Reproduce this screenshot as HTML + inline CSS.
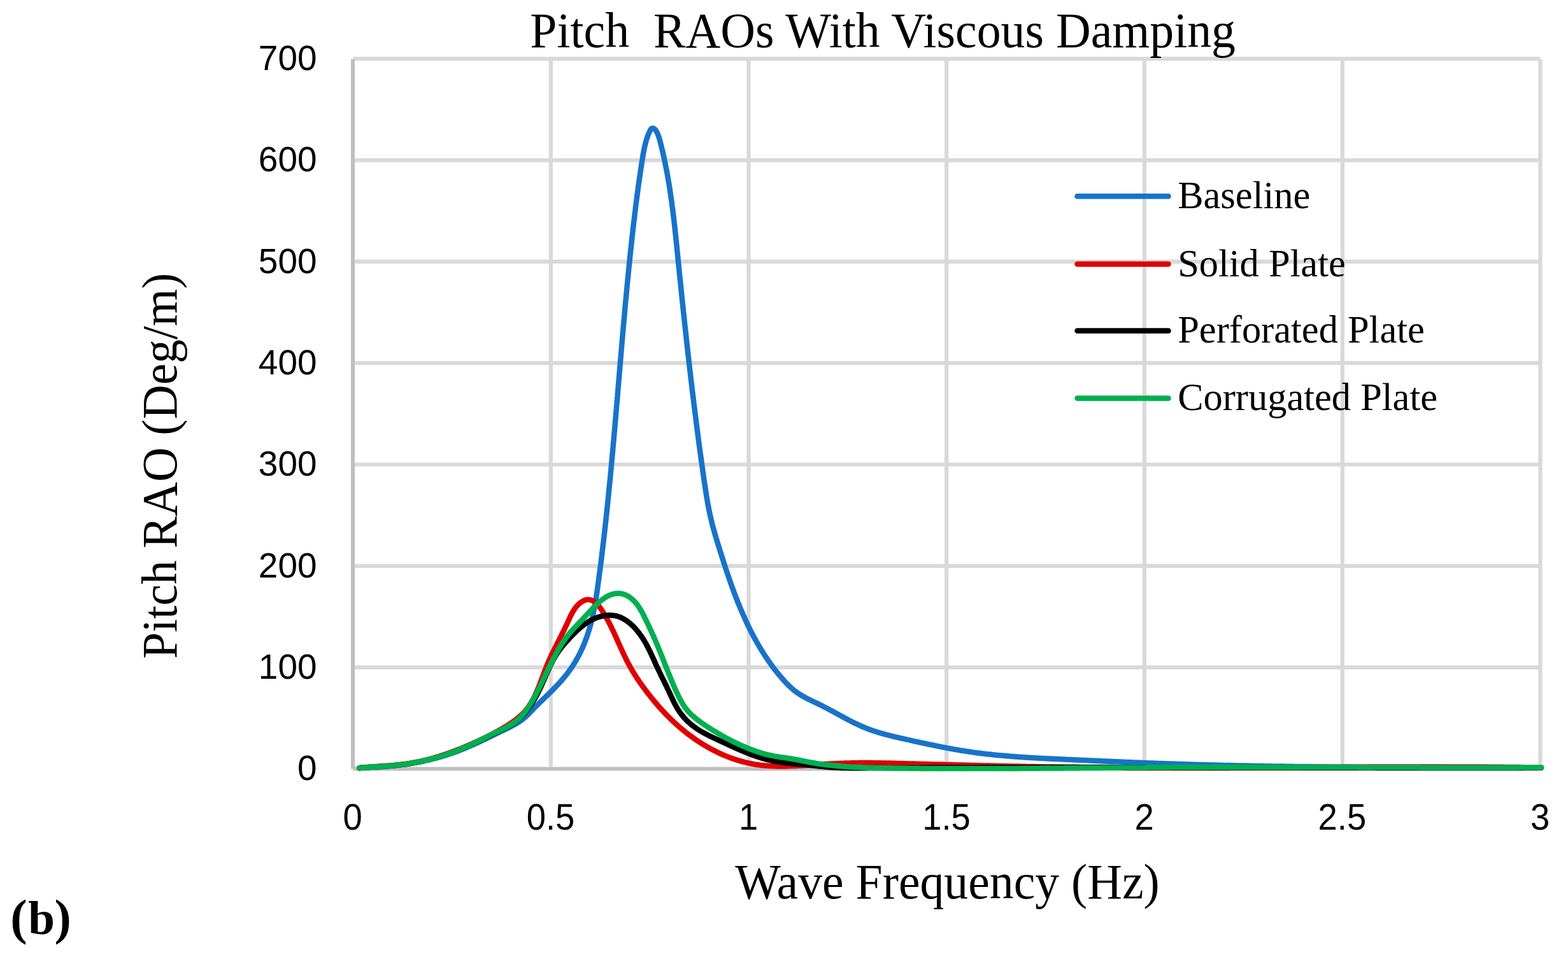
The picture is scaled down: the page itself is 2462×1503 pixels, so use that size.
<!DOCTYPE html>
<html><head><meta charset="utf-8"><title>Pitch RAOs With Viscous Damping</title>
<style>html,body{margin:0;padding:0;background:#fff;overflow:hidden}svg{display:block}</style>
</head><body>
<svg width="2462" height="1503" viewBox="0 0 2462 1503">
<rect width="2462" height="1503" fill="#ffffff"/>
<g stroke="#d9d9d9" stroke-width="6.2"><line x1="554.0" y1="1048.1" x2="2418.5" y2="1048.1"/><line x1="554.0" y1="888.8" x2="2418.5" y2="888.8"/><line x1="554.0" y1="729.5" x2="2418.5" y2="729.5"/><line x1="554.0" y1="570.2" x2="2418.5" y2="570.2"/><line x1="554.0" y1="410.9" x2="2418.5" y2="410.9"/><line x1="554.0" y1="251.6" x2="2418.5" y2="251.6"/><line x1="554.0" y1="92.3" x2="2418.5" y2="92.3"/><line x1="864.8" y1="92.8" x2="864.8" y2="1204.4"/><line x1="1175.5" y1="92.8" x2="1175.5" y2="1204.4"/><line x1="1486.2" y1="92.8" x2="1486.2" y2="1204.4"/><line x1="1797.0" y1="92.8" x2="1797.0" y2="1204.4"/><line x1="2107.8" y1="92.8" x2="2107.8" y2="1204.4"/><line x1="2418.5" y1="92.8" x2="2418.5" y2="1204.4"/></g>
<g stroke="#bfbfbf" stroke-width="6"><line x1="554.0" y1="93.0" x2="554.0" y2="1207.6"/><line x1="554.0" y1="1207.4" x2="2418.5" y2="1207.4"/></g>
<g fill="none" stroke-width="8.5" stroke-linecap="round" stroke-linejoin="round">
<path d="M564.3 1206.2L566.3 1205.7 568.3 1205.6 570.3 1205.6 572.3 1205.5 574.2 1205.5 576.2 1205.4 578.2 1205.3 580.2 1205.3 582.2 1205.2 584.2 1205.1 586.2 1205.0 588.2 1204.9 590.2 1204.8 592.2 1204.7 594.2 1204.5 596.2 1204.4 598.2 1204.3 600.2 1204.1 602.2 1204.0 604.2 1203.8 606.2 1203.7 608.2 1203.5 610.2 1203.3 612.2 1203.1 614.1 1202.9 616.1 1202.7 618.1 1202.5 620.1 1202.3 622.1 1202.1 624.1 1201.8 626.1 1201.6 628.1 1201.4 630.1 1201.1 632.0 1200.8 634.0 1200.6 636.0 1200.3 638.0 1200.0 640.0 1199.7 641.9 1199.4 643.9 1199.1 645.9 1198.8 647.9 1198.4 649.8 1198.1 651.8 1197.7 653.8 1197.4 655.7 1197.0 657.7 1196.6 659.7 1196.3 661.6 1195.9 663.6 1195.5 665.5 1195.0 667.5 1194.6 669.4 1194.2 671.4 1193.8 673.3 1193.3 675.3 1192.8 677.2 1192.4 679.1 1191.9 681.1 1191.4 683.0 1190.9 684.9 1190.4 686.9 1189.9 688.8 1189.4 690.7 1188.8 692.6 1188.3 694.5 1187.7 696.5 1187.1 698.4 1186.6 700.3 1186.0 702.2 1185.4 704.1 1184.8 706.0 1184.1 707.8 1183.5 709.7 1182.9 711.6 1182.2 713.5 1181.5 715.4 1180.9 717.2 1180.2 719.1 1179.5 721.0 1178.8 722.8 1178.1 724.7 1177.3 726.5 1176.6 728.4 1175.8 730.2 1175.1 732.1 1174.3 733.9 1173.5 735.7 1172.7 737.6 1171.9 739.4 1171.1 741.2 1170.3 743.1 1169.5 744.9 1168.7 746.7 1167.8 748.5 1167.0 750.3 1166.2 752.2 1165.3 754.0 1164.5 755.8 1163.6 757.6 1162.7 759.4 1161.9 761.2 1161.0 763.0 1160.1 764.8 1159.3 766.6 1158.4 768.4 1157.5 770.2 1156.6 772.0 1155.8 773.8 1154.9 775.6 1154.0 777.4 1153.1 779.2 1152.2 781.0 1151.3 782.9 1150.5 784.7 1149.6 786.5 1148.7 788.3 1147.8 790.1 1147.0 791.9 1146.1 793.7 1145.2 795.5 1144.3 797.3 1143.5 799.1 1142.6 800.9 1141.7 802.7 1140.8 804.4 1139.9 806.2 1138.9 807.9 1138.0 809.6 1137.0 811.4 1136.0 813.0 1135.0 814.7 1133.9 816.4 1132.8 818.0 1131.7 819.6 1130.5 821.1 1129.3 822.7 1128.1 824.2 1126.8 825.7 1125.5 827.1 1124.1 828.6 1122.7 830.0 1121.3 831.4 1119.9 832.8 1118.4 834.2 1116.9 835.6 1115.5 837.0 1114.0 838.4 1112.6 839.8 1111.1 841.2 1109.7 842.6 1108.3 844.0 1106.9 845.5 1105.4 846.9 1104.0 848.4 1102.6 849.8 1101.2 851.2 1099.8 852.7 1098.4 854.1 1097.0 855.6 1095.6 857.0 1094.2 858.4 1092.8 859.9 1091.4 861.3 1090.0 862.7 1088.6 864.2 1087.2 865.6 1085.8 867.0 1084.3 868.4 1082.9 869.8 1081.5 871.2 1080.1 872.6 1078.6 874.0 1077.2 875.3 1075.7 876.7 1074.3 878.1 1072.8 879.4 1071.3 880.7 1069.9 882.0 1068.4 883.3 1066.9 884.6 1065.3 885.9 1063.8 887.2 1062.3 888.4 1060.7 889.6 1059.2 890.9 1057.6 892.1 1056.0 893.2 1054.4 894.4 1052.8 895.6 1051.2 896.7 1049.5 897.8 1047.9 898.9 1046.2 900.0 1044.5 901.0 1042.9 902.1 1041.2 903.1 1039.5 904.1 1037.7 905.1 1036.0 906.1 1034.3 907.1 1032.5 908.0 1030.8 909.0 1029.0 909.9 1027.2 910.8 1025.4 911.7 1023.6 912.5 1021.8 913.4 1020.0 914.2 1018.2 915.0 1016.4 915.8 1014.5 916.6 1012.7 917.3 1010.8 918.1 1009.0 918.8 1007.1 919.5 1005.2 920.2 1003.4 920.9 1001.5 921.6 999.6 922.2 997.7 922.9 995.8 923.5 993.9 924.1 992.0 924.7 990.1 925.3 988.1 925.8 986.2 926.4 984.3 926.9 982.4 927.5 980.4 928.0 978.5 928.5 976.5 929.0 974.6 929.4 972.7 929.9 970.7 930.3 968.8 930.8 966.8 931.2 964.9 931.6 962.9 932.0 960.9 932.4 959.0 932.8 957.0 933.2 955.1 933.5 953.1 933.9 951.1 934.2 949.2 934.6 947.2 934.9 945.2 935.3 943.2 935.6 941.3 935.9 939.3 936.2 937.3 936.5 935.4 936.8 933.4 937.1 931.4 937.4 929.4 937.7 927.4 937.9 925.5 938.2 923.5 938.5 921.5 938.8 919.5 939.0 917.6 939.3 915.6 939.6 913.6 939.9 911.6 940.1 909.6 940.4 907.7 940.6 905.7 940.9 903.7 941.2 901.7 941.4 899.7 941.7 897.8 942.0 895.8 942.2 893.8 942.5 891.8 942.7 889.8 943.0 887.8 943.2 885.9 943.5 883.9 943.7 881.9 944.0 879.9 944.2 877.9 944.5 875.9 944.7 874.0 945.0 872.0 945.2 870.0 945.4 868.0 945.7 866.0 945.9 864.0 946.2 862.1 946.4 860.1 946.6 858.1 946.9 856.1 947.1 854.1 947.3 852.1 947.6 850.2 947.8 848.2 948.0 846.2 948.3 844.2 948.5 842.2 948.7 840.2 948.9 838.2 949.2 836.3 949.4 834.3 949.6 832.3 949.8 830.3 950.1 828.3 950.3 826.3 950.5 824.3 950.7 822.4 950.9 820.4 951.2 818.4 951.4 816.4 951.6 814.4 951.8 812.4 952.0 810.4 952.2 808.5 952.4 806.5 952.7 804.5 952.9 802.5 953.1 800.5 953.3 798.5 953.5 796.5 953.7 794.5 953.9 792.6 954.1 790.6 954.3 788.6 954.5 786.6 954.7 784.6 954.9 782.6 955.1 780.6 955.3 778.6 955.5 776.7 955.7 774.7 955.9 772.7 956.1 770.7 956.3 768.7 956.5 766.7 956.7 764.7 956.9 762.7 957.1 760.7 957.3 758.8 957.5 756.8 957.7 754.8 957.9 752.8 958.1 750.8 958.3 748.8 958.5 746.8 958.6 744.8 958.8 742.8 959.0 740.8 959.2 738.9 959.4 736.9 959.6 734.9 959.8 732.9 960.0 730.9 960.1 728.9 960.3 726.9 960.5 724.9 960.7 722.9 960.9 720.9 961.1 718.9 961.2 717.0 961.4 715.0 961.6 713.0 961.8 711.0 962.0 709.0 962.1 707.0 962.3 705.0 962.5 703.0 962.7 701.0 962.9 699.0 963.0 697.0 963.2 695.1 963.4 693.1 963.6 691.1 963.7 689.1 963.9 687.1 964.1 685.1 964.3 683.1 964.4 681.1 964.6 679.1 964.8 677.1 965.0 675.1 965.1 673.1 965.3 671.2 965.5 669.2 965.7 667.2 965.8 665.2 966.0 663.2 966.2 661.2 966.3 659.2 966.5 657.2 966.7 655.2 966.9 653.2 967.0 651.2 967.2 649.2 967.4 647.3 967.5 645.3 967.7 643.3 967.9 641.3 968.0 639.3 968.2 637.3 968.4 635.3 968.6 633.3 968.7 631.3 968.9 629.3 969.1 627.3 969.2 625.3 969.4 623.3 969.6 621.3 969.7 619.4 969.9 617.4 970.1 615.4 970.2 613.4 970.4 611.4 970.6 609.4 970.7 607.4 970.9 605.4 971.1 603.4 971.2 601.4 971.4 599.4 971.6 597.4 971.8 595.4 971.9 593.5 972.1 591.5 972.3 589.5 972.4 587.5 972.6 585.5 972.8 583.5 972.9 581.5 973.1 579.5 973.3 577.5 973.4 575.5 973.6 573.5 973.8 571.5 973.9 569.5 974.1 567.6 974.3 565.6 974.4 563.6 974.6 561.6 974.8 559.6 974.9 557.6 975.1 555.6 975.3 553.6 975.5 551.6 975.6 549.6 975.8 547.6 976.0 545.6 976.1 543.6 976.3 541.7 976.5 539.7 976.7 537.7 976.8 535.7 977.0 533.7 977.2 531.7 977.3 529.7 977.5 527.7 977.7 525.7 977.9 523.7 978.0 521.7 978.2 519.7 978.4 517.7 978.6 515.8 978.7 513.8 978.9 511.8 979.1 509.8 979.3 507.8 979.4 505.8 979.6 503.8 979.8 501.8 980.0 499.8 980.1 497.8 980.3 495.8 980.5 493.8 980.7 491.9 980.9 489.9 981.0 487.9 981.2 485.9 981.4 483.9 981.6 481.9 981.8 479.9 981.9 477.9 982.1 475.9 982.3 473.9 982.5 471.9 982.7 470.0 982.9 468.0 983.1 466.0 983.2 464.0 983.4 462.0 983.6 460.0 983.8 458.0 984.0 456.0 984.2 454.0 984.4 452.0 984.6 450.1 984.7 448.1 984.9 446.1 985.1 444.1 985.3 442.1 985.5 440.1 985.7 438.1 985.9 436.1 986.1 434.1 986.3 432.2 986.5 430.2 986.7 428.2 986.9 426.2 987.1 424.2 987.3 422.2 987.5 420.2 987.7 418.2 987.9 416.2 988.1 414.3 988.3 412.3 988.5 410.3 988.7 408.3 988.9 406.3 989.1 404.3 989.3 402.3 989.5 400.3 989.7 398.4 989.9 396.4 990.1 394.4 990.4 392.4 990.6 390.4 990.8 388.4 991.0 386.4 991.2 384.4 991.4 382.5 991.6 380.5 991.9 378.5 992.1 376.5 992.3 374.5 992.5 372.5 992.7 370.5 992.9 368.5 993.2 366.6 993.4 364.6 993.6 362.6 993.8 360.6 994.1 358.6 994.3 356.6 994.5 354.7 994.8 352.7 995.0 350.7 995.2 348.7 995.5 346.7 995.7 344.7 995.9 342.7 996.2 340.8 996.4 338.8 996.6 336.8 996.9 334.8 997.1 332.8 997.4 330.8 997.6 328.9 997.8 326.9 998.1 324.9 998.3 322.9 998.6 320.9 998.8 318.9 999.1 317.0 999.3 315.0 999.6 313.0 999.9 311.0 1000.1 309.0 1000.4 307.0 1000.6 305.1 1000.9 303.1 1001.2 301.1 1001.4 299.1 1001.7 297.1 1002.0 295.2 1002.2 293.2 1002.5 291.2 1002.8 289.2 1003.1 287.2 1003.3 285.3 1003.6 283.3 1003.9 281.3 1004.2 279.3 1004.5 277.3 1004.8 275.4 1005.1 273.4 1005.3 271.4 1005.6 269.4 1005.9 267.4 1006.2 265.5 1006.5 263.5 1006.8 261.5 1007.1 259.5 1007.4 257.6 1007.7 255.6 1008.1 253.6 1008.4 251.6 1008.7 249.6 1009.0 247.7 1009.3 245.7 1009.7 243.7 1010.0 241.8 1010.3 239.8 1010.7 237.8 1011.1 235.9 1011.5 233.9 1011.9 231.9 1012.3 230.0 1012.8 228.0 1013.3 226.1 1013.8 224.2 1014.3 222.2 1014.8 220.3 1015.4 218.4 1016.1 216.5 1016.7 214.6 1017.4 212.7 1018.1 210.8 1018.9 209.0 1019.7 207.1 1020.6 205.3 1021.5 203.5 1022.6 202.2 1023.9 201.4 1025.4 201.4 1027.0 202.1 1028.5 203.3 1029.8 204.9 1031.0 206.8 1032.0 208.9 1032.9 210.9 1033.7 213.0 1034.4 214.9 1035.0 216.9 1035.6 218.8 1036.1 220.8 1036.6 222.7 1037.1 224.6 1037.6 226.5 1038.1 228.4 1038.5 230.4 1039.0 232.3 1039.5 234.2 1040.0 236.2 1040.4 238.1 1040.9 240.0 1041.3 242.0 1041.7 243.9 1042.2 245.8 1042.6 247.8 1043.0 249.7 1043.4 251.7 1043.8 253.6 1044.2 255.6 1044.6 257.5 1045.0 259.4 1045.4 261.4 1045.8 263.3 1046.2 265.3 1046.6 267.3 1046.9 269.2 1047.3 271.2 1047.7 273.1 1048.0 275.1 1048.4 277.0 1048.7 279.0 1049.0 281.0 1049.4 282.9 1049.7 284.9 1050.0 286.8 1050.4 288.8 1050.7 290.8 1051.0 292.7 1051.3 294.7 1051.6 296.7 1051.9 298.6 1052.2 300.6 1052.5 302.6 1052.8 304.6 1053.1 306.5 1053.4 308.5 1053.7 310.5 1053.9 312.5 1054.2 314.4 1054.5 316.4 1054.8 318.4 1055.0 320.4 1055.3 322.4 1055.5 324.3 1055.8 326.3 1056.1 328.3 1056.3 330.3 1056.6 332.3 1056.8 334.2 1057.0 336.2 1057.3 338.2 1057.5 340.2 1057.8 342.2 1058.0 344.2 1058.2 346.2 1058.5 348.1 1058.7 350.1 1058.9 352.1 1059.1 354.1 1059.4 356.1 1059.6 358.1 1059.8 360.1 1060.0 362.1 1060.2 364.0 1060.4 366.0 1060.7 368.0 1060.9 370.0 1061.1 372.0 1061.3 374.0 1061.5 376.0 1061.7 378.0 1061.9 380.0 1062.1 382.0 1062.3 384.0 1062.5 386.0 1062.7 387.9 1062.9 389.9 1063.1 391.9 1063.3 393.9 1063.5 395.9 1063.7 397.9 1063.9 399.9 1064.1 401.9 1064.3 403.9 1064.5 405.9 1064.7 407.9 1064.9 409.9 1065.1 411.9 1065.3 413.8 1065.5 415.8 1065.7 417.8 1065.9 419.8 1066.1 421.8 1066.3 423.8 1066.5 425.8 1066.7 427.8 1066.9 429.8 1067.1 431.8 1067.3 433.8 1067.5 435.7 1067.7 437.7 1067.9 439.7 1068.2 441.7 1068.4 443.7 1068.6 445.7 1068.8 447.7 1069.0 449.7 1069.2 451.7 1069.4 453.7 1069.6 455.6 1069.8 457.6 1070.0 459.6 1070.2 461.6 1070.4 463.6 1070.6 465.6 1070.8 467.6 1071.0 469.6 1071.2 471.6 1071.4 473.5 1071.6 475.5 1071.9 477.5 1072.1 479.5 1072.3 481.5 1072.5 483.5 1072.7 485.5 1072.9 487.5 1073.1 489.4 1073.3 491.4 1073.5 493.4 1073.7 495.4 1074.0 497.4 1074.2 499.4 1074.4 501.4 1074.6 503.4 1074.8 505.3 1075.0 507.3 1075.2 509.3 1075.4 511.3 1075.7 513.3 1075.9 515.3 1076.1 517.3 1076.3 519.2 1076.5 521.2 1076.7 523.2 1077.0 525.2 1077.2 527.2 1077.4 529.2 1077.6 531.2 1077.8 533.1 1078.0 535.1 1078.3 537.1 1078.5 539.1 1078.7 541.1 1078.9 543.1 1079.1 545.1 1079.4 547.0 1079.6 549.0 1079.8 551.0 1080.0 553.0 1080.3 555.0 1080.5 557.0 1080.7 559.0 1080.9 560.9 1081.2 562.9 1081.4 564.9 1081.6 566.9 1081.8 568.9 1082.1 570.9 1082.3 572.8 1082.5 574.8 1082.7 576.8 1083.0 578.8 1083.2 580.8 1083.4 582.8 1083.7 584.7 1083.9 586.7 1084.1 588.7 1084.4 590.7 1084.6 592.7 1084.8 594.7 1085.0 596.7 1085.3 598.6 1085.5 600.6 1085.8 602.6 1086.0 604.6 1086.2 606.6 1086.5 608.5 1086.7 610.5 1086.9 612.5 1087.2 614.5 1087.4 616.5 1087.6 618.5 1087.9 620.4 1088.1 622.4 1088.4 624.4 1088.6 626.4 1088.9 628.4 1089.1 630.4 1089.3 632.3 1089.6 634.3 1089.8 636.3 1090.1 638.3 1090.3 640.3 1090.6 642.3 1090.8 644.2 1091.1 646.2 1091.3 648.2 1091.6 650.2 1091.8 652.2 1092.1 654.1 1092.3 656.1 1092.6 658.1 1092.8 660.1 1093.1 662.1 1093.3 664.1 1093.6 666.0 1093.8 668.0 1094.1 670.0 1094.3 672.0 1094.6 674.0 1094.8 676.0 1095.1 677.9 1095.4 679.9 1095.6 681.9 1095.9 683.9 1096.1 685.9 1096.4 687.8 1096.7 689.8 1096.9 691.8 1097.2 693.8 1097.4 695.8 1097.7 697.8 1098.0 699.7 1098.2 701.7 1098.5 703.7 1098.8 705.7 1099.0 707.7 1099.3 709.6 1099.6 711.6 1099.9 713.6 1100.1 715.6 1100.4 717.6 1100.7 719.5 1100.9 721.5 1101.2 723.5 1101.5 725.5 1101.8 727.5 1102.0 729.5 1102.3 731.4 1102.6 733.4 1102.9 735.4 1103.2 737.4 1103.4 739.4 1103.7 741.3 1104.0 743.3 1104.3 745.3 1104.6 747.3 1104.8 749.3 1105.1 751.3 1105.4 753.2 1105.7 755.2 1106.0 757.2 1106.3 759.2 1106.6 761.2 1106.9 763.1 1107.2 765.1 1107.5 767.1 1107.8 769.1 1108.1 771.1 1108.4 773.0 1108.7 775.0 1109.0 777.0 1109.3 779.0 1109.6 780.9 1110.0 782.9 1110.3 784.9 1110.6 786.9 1111.0 788.8 1111.3 790.8 1111.7 792.8 1112.1 794.7 1112.4 796.7 1112.8 798.7 1113.2 800.6 1113.6 802.6 1114.0 804.5 1114.4 806.5 1114.8 808.4 1115.3 810.4 1115.7 812.3 1116.2 814.3 1116.6 816.2 1117.1 818.2 1117.6 820.1 1118.0 822.0 1118.5 824.0 1119.0 825.9 1119.6 827.8 1120.1 829.8 1120.6 831.7 1121.1 833.6 1121.7 835.6 1122.2 837.5 1122.8 839.4 1123.3 841.3 1123.9 843.2 1124.5 845.2 1125.1 847.1 1125.6 849.0 1126.2 850.9 1126.8 852.8 1127.4 854.7 1128.0 856.6 1128.6 858.5 1129.2 860.4 1129.8 862.4 1130.4 864.3 1131.0 866.2 1131.6 868.1 1132.2 870.0 1132.8 871.9 1133.4 873.8 1134.0 875.7 1134.6 877.6 1135.2 879.5 1135.8 881.4 1136.4 883.3 1137.0 885.2 1137.6 887.1 1138.3 889.0 1138.9 890.9 1139.5 892.8 1140.1 894.7 1140.8 896.6 1141.4 898.5 1142.0 900.4 1142.7 902.3 1143.3 904.2 1144.0 906.1 1144.6 908.0 1145.3 909.9 1145.9 911.7 1146.6 913.6 1147.2 915.5 1147.9 917.4 1148.6 919.3 1149.2 921.2 1149.9 923.0 1150.6 924.9 1151.3 926.8 1152.0 928.7 1152.7 930.6 1153.4 932.4 1154.1 934.3 1154.8 936.2 1155.5 938.0 1156.2 939.9 1157.0 941.8 1157.7 943.6 1158.4 945.5 1159.2 947.4 1159.9 949.2 1160.7 951.1 1161.5 952.9 1162.2 954.8 1163.0 956.6 1163.8 958.5 1164.6 960.3 1165.4 962.1 1166.2 964.0 1167.0 965.8 1167.8 967.6 1168.6 969.5 1169.4 971.3 1170.2 973.1 1171.1 974.9 1171.9 976.7 1172.8 978.6 1173.6 980.4 1174.5 982.2 1175.4 984.0 1176.2 985.8 1177.1 987.5 1178.0 989.3 1178.9 991.1 1179.8 992.9 1180.7 994.7 1181.7 996.4 1182.6 998.2 1183.5 1000.0 1184.5 1001.7 1185.4 1003.5 1186.4 1005.2 1187.4 1007.0 1188.3 1008.7 1189.3 1010.4 1190.3 1012.2 1191.3 1013.9 1192.3 1015.6 1193.4 1017.3 1194.4 1019.0 1195.4 1020.7 1196.5 1022.4 1197.5 1024.1 1198.6 1025.8 1199.7 1027.5 1200.8 1029.2 1201.8 1030.8 1203.0 1032.5 1204.1 1034.2 1205.2 1035.8 1206.3 1037.5 1207.5 1039.1 1208.6 1040.7 1209.8 1042.4 1210.9 1044.0 1212.1 1045.6 1213.3 1047.2 1214.5 1048.8 1215.7 1050.4 1216.9 1052.0 1218.2 1053.6 1219.4 1055.1 1220.6 1056.7 1221.9 1058.2 1223.2 1059.8 1224.5 1061.3 1225.8 1062.9 1227.1 1064.4 1228.4 1065.9 1229.7 1067.4 1231.0 1068.9 1232.4 1070.4 1233.8 1071.9 1235.2 1073.3 1236.6 1074.8 1238.0 1076.2 1239.4 1077.6 1240.9 1078.9 1242.3 1080.3 1243.8 1081.6 1245.3 1082.9 1246.9 1084.2 1248.4 1085.4 1250.0 1086.6 1251.6 1087.7 1253.2 1088.9 1254.9 1089.9 1256.5 1091.0 1258.2 1092.0 1259.9 1093.0 1261.7 1094.0 1263.4 1095.0 1265.2 1095.9 1266.9 1096.8 1268.7 1097.8 1270.5 1098.6 1272.3 1099.5 1274.1 1100.4 1275.9 1101.3 1277.7 1102.1 1279.5 1103.0 1281.3 1103.9 1283.1 1104.7 1284.9 1105.6 1286.8 1106.5 1288.6 1107.4 1290.4 1108.3 1292.2 1109.2 1293.9 1110.1 1295.7 1111.0 1297.5 1111.9 1299.3 1112.9 1301.1 1113.8 1302.8 1114.7 1304.6 1115.7 1306.4 1116.7 1308.1 1117.6 1309.9 1118.6 1311.7 1119.5 1313.4 1120.5 1315.2 1121.5 1316.9 1122.4 1318.7 1123.4 1320.5 1124.3 1322.2 1125.3 1324.0 1126.3 1325.7 1127.2 1327.5 1128.2 1329.3 1129.1 1331.0 1130.0 1332.8 1131.0 1334.6 1131.9 1336.4 1132.8 1338.1 1133.7 1339.9 1134.6 1341.7 1135.5 1343.5 1136.3 1345.3 1137.2 1347.1 1138.0 1348.9 1138.9 1350.7 1139.7 1352.5 1140.5 1354.3 1141.3 1356.1 1142.1 1358.0 1142.8 1359.8 1143.6 1361.6 1144.3 1363.5 1145.0 1365.4 1145.7 1367.2 1146.4 1369.1 1147.0 1371.0 1147.7 1372.9 1148.3 1374.7 1148.9 1376.6 1149.5 1378.5 1150.1 1380.4 1150.7 1382.4 1151.2 1384.3 1151.8 1386.2 1152.3 1388.1 1152.9 1390.0 1153.4 1392.0 1153.9 1393.9 1154.4 1395.8 1154.9 1397.8 1155.4 1399.7 1155.9 1401.6 1156.3 1403.6 1156.8 1405.5 1157.3 1407.5 1157.7 1409.4 1158.2 1411.4 1158.6 1413.3 1159.1 1415.3 1159.5 1417.3 1159.9 1419.2 1160.4 1421.2 1160.8 1423.1 1161.3 1425.1 1161.7 1427.0 1162.1 1429.0 1162.6 1430.9 1163.0 1432.9 1163.5 1434.9 1163.9 1436.8 1164.3 1438.8 1164.8 1440.7 1165.2 1442.7 1165.6 1444.6 1166.0 1446.6 1166.5 1448.6 1166.9 1450.5 1167.3 1452.5 1167.7 1454.4 1168.2 1456.4 1168.6 1458.3 1169.0 1460.3 1169.4 1462.3 1169.8 1464.2 1170.2 1466.2 1170.6 1468.2 1171.0 1470.1 1171.4 1472.1 1171.8 1474.0 1172.2 1476.0 1172.6 1478.0 1173.0 1479.9 1173.4 1481.9 1173.8 1483.9 1174.1 1485.8 1174.5 1487.8 1174.9 1489.7 1175.2 1491.7 1175.6 1493.7 1176.0 1495.6 1176.3 1497.6 1176.7 1499.6 1177.0 1501.6 1177.4 1503.5 1177.7 1505.5 1178.0 1507.5 1178.4 1509.4 1178.7 1511.4 1179.0 1513.4 1179.3 1515.3 1179.6 1517.3 1179.9 1519.3 1180.2 1521.3 1180.5 1523.2 1180.8 1525.2 1181.1 1527.2 1181.4 1529.2 1181.7 1531.2 1181.9 1533.1 1182.2 1535.1 1182.5 1537.1 1182.7 1539.1 1183.0 1541.0 1183.2 1543.0 1183.5 1545.0 1183.7 1547.0 1183.9 1549.0 1184.2 1551.0 1184.4 1552.9 1184.6 1554.9 1184.8 1556.9 1185.0 1558.9 1185.3 1560.9 1185.5 1562.9 1185.7 1564.9 1185.9 1566.8 1186.1 1568.8 1186.2 1570.8 1186.4 1572.8 1186.6 1574.8 1186.8 1576.8 1187.0 1578.8 1187.1 1580.8 1187.3 1582.8 1187.5 1584.8 1187.6 1586.7 1187.8 1588.7 1187.9 1590.7 1188.1 1592.7 1188.3 1594.7 1188.4 1596.7 1188.5 1598.7 1188.7 1600.7 1188.8 1602.7 1189.0 1604.7 1189.1 1606.7 1189.2 1608.7 1189.4 1610.7 1189.5 1612.7 1189.6 1614.7 1189.7 1616.7 1189.9 1618.6 1190.0 1620.6 1190.1 1622.6 1190.2 1624.6 1190.3 1626.6 1190.4 1628.6 1190.5 1630.6 1190.7 1632.6 1190.8 1634.6 1190.9 1636.6 1191.0 1638.6 1191.1 1640.6 1191.2 1642.6 1191.3 1644.6 1191.4 1646.6 1191.5 1648.6 1191.6 1650.6 1191.7 1652.6 1191.8 1654.6 1191.9 1656.6 1191.9 1658.6 1192.0 1660.6 1192.1 1662.6 1192.2 1664.6 1192.3 1666.6 1192.4 1668.6 1192.5 1670.6 1192.6 1672.6 1192.7 1674.6 1192.8 1676.6 1192.9 1678.6 1192.9 1680.6 1193.0 1682.6 1193.1 1684.6 1193.2 1686.6 1193.3 1688.6 1193.4 1690.6 1193.5 1692.6 1193.6 1694.6 1193.7 1696.6 1193.7 1698.6 1193.8 1700.6 1193.9 1702.6 1194.0 1704.6 1194.1 1706.6 1194.2 1708.5 1194.3 1710.5 1194.4 1712.5 1194.5 1714.5 1194.6 1716.5 1194.7 1718.5 1194.7 1720.5 1194.8 1722.5 1194.9 1724.5 1195.0 1726.5 1195.1 1728.5 1195.2 1730.5 1195.3 1732.5 1195.4 1734.5 1195.5 1736.5 1195.5 1738.5 1195.6 1740.5 1195.7 1742.5 1195.8 1744.5 1195.9 1746.5 1196.0 1748.5 1196.1 1750.5 1196.2 1752.5 1196.3 1754.5 1196.3 1756.5 1196.4 1758.5 1196.5 1760.5 1196.6 1762.5 1196.7 1764.5 1196.8 1766.5 1196.9 1768.5 1196.9 1770.4 1197.0 1772.4 1197.1 1774.4 1197.2 1776.4 1197.3 1778.4 1197.4 1780.4 1197.4 1782.4 1197.5 1784.4 1197.6 1786.4 1197.7 1788.4 1197.8 1790.4 1197.8 1792.4 1197.9 1794.4 1198.0 1796.4 1198.1 1798.4 1198.2 1800.4 1198.2 1802.4 1198.3 1804.4 1198.4 1806.4 1198.5 1808.4 1198.5 1810.4 1198.6 1812.4 1198.7 1814.4 1198.8 1816.4 1198.8 1818.4 1198.9 1820.4 1199.0 1822.4 1199.0 1824.4 1199.1 1826.4 1199.2 1828.4 1199.2 1830.4 1199.3 1832.3 1199.4 1834.3 1199.5 1836.3 1199.5 1838.3 1199.6 1840.3 1199.6 1842.3 1199.7 1844.3 1199.8 1846.3 1199.8 1848.3 1199.9 1850.3 1200.0 1852.3 1200.0 1854.3 1200.1 1856.3 1200.2 1858.3 1200.2 1860.3 1200.3 1862.3 1200.3 1864.3 1200.4 1866.3 1200.5 1868.3 1200.5 1870.3 1200.6 1872.3 1200.6 1874.3 1200.7 1876.3 1200.7 1878.3 1200.8 1880.3 1200.9 1882.3 1200.9 1884.3 1201.0 1886.3 1201.0 1888.3 1201.1 1890.3 1201.1 1892.3 1201.2 1894.3 1201.2 1896.3 1201.3 1898.3 1201.3 1900.3 1201.4 1902.3 1201.4 1904.3 1201.5 1906.3 1201.5 1908.3 1201.6 1910.3 1201.6 1912.3 1201.7 1914.3 1201.7 1916.3 1201.8 1918.2 1201.8 1920.2 1201.9 1922.2 1201.9 1924.2 1202.0 1926.2 1202.0 1928.2 1202.1 1930.2 1202.1 1932.2 1202.2 1934.2 1202.2 1936.2 1202.2 1938.2 1202.3 1940.2 1202.3 1942.2 1202.4 1944.2 1202.4 1946.2 1202.4 1948.2 1202.5 1950.2 1202.5 1952.2 1202.6 1954.2 1202.6 1956.2 1202.6 1958.2 1202.7 1960.2 1202.7 1962.2 1202.8 1964.2 1202.8 1966.2 1202.8 1968.2 1202.9 1970.2 1202.9 1972.2 1202.9 1974.2 1203.0 1976.2 1203.0 1978.2 1203.0 1980.2 1203.1 1982.2 1203.1 1984.2 1203.2 1986.2 1203.2 1988.2 1203.2 1990.2 1203.3 1992.2 1203.3 1994.2 1203.3 1996.2 1203.3 1998.2 1203.4 2000.2 1203.4 2002.2 1203.4 2004.2 1203.5 2006.2 1203.5 2008.2 1203.5 2010.2 1203.6 2012.2 1203.6 2014.2 1203.6 2016.2 1203.6 2018.2 1203.7 2020.2 1203.7 2022.2 1203.7 2024.2 1203.7 2026.2 1203.8 2028.2 1203.8 2030.2 1203.8 2032.2 1203.9 2034.2 1203.9 2036.2 1203.9 2038.2 1203.9 2040.2 1203.9 2042.2 1204.0 2044.2 1204.0 2046.2 1204.0 2048.2 1204.0 2050.2 1204.1 2052.2 1204.1 2054.2 1204.1 2056.2 1204.1 2058.2 1204.1 2060.2 1204.2 2062.2 1204.2 2064.2 1204.2 2066.2 1204.2 2068.2 1204.3 2070.2 1204.3 2072.2 1204.3 2074.2 1204.3 2076.1 1204.3 2078.1 1204.3 2080.1 1204.4 2082.1 1204.4 2084.1 1204.4 2086.1 1204.4 2088.1 1204.4 2090.1 1204.5 2092.1 1204.5 2094.1 1204.5 2096.1 1204.5 2098.1 1204.5 2100.1 1204.5 2102.1 1204.5 2104.1 1204.6 2106.1 1204.6 2108.1 1204.6 2110.1 1204.6 2112.1 1204.6 2114.1 1204.6 2116.1 1204.6 2118.1 1204.7 2120.1 1204.7 2122.1 1204.7 2124.1 1204.7 2126.1 1204.7 2128.1 1204.7 2130.1 1204.7 2132.1 1204.7 2134.1 1204.8 2136.1 1204.8 2138.1 1204.8 2140.1 1204.8 2142.1 1204.8 2144.1 1204.8 2146.1 1204.8 2148.1 1204.8 2150.1 1204.8 2152.1 1204.9 2154.1 1204.9 2156.1 1204.9 2158.1 1204.9 2160.1 1204.9 2162.1 1204.9 2164.1 1204.9 2166.1 1204.9 2168.1 1204.9 2170.1 1204.9 2172.1 1204.9 2174.1 1204.9 2176.1 1205.0 2178.1 1205.0 2180.1 1205.0 2182.1 1205.0 2184.1 1205.0 2186.1 1205.0 2188.1 1205.0 2190.1 1205.0 2192.1 1205.0 2194.1 1205.0 2196.1 1205.0 2198.1 1205.0 2200.1 1205.0 2202.1 1205.0 2204.1 1205.0 2206.1 1205.0 2208.1 1205.1 2210.1 1205.1 2212.1 1205.1 2214.1 1205.1 2216.1 1205.1 2218.1 1205.1 2220.1 1205.1 2222.1 1205.1 2224.1 1205.1 2226.1 1205.1 2228.1 1205.1 2230.1 1205.1 2232.1 1205.1 2234.1 1205.1 2236.1 1205.1 2238.1 1205.1 2240.1 1205.1 2242.1 1205.1 2244.1 1205.1 2246.1 1205.1 2248.1 1205.1 2250.1 1205.1 2252.1 1205.1 2254.1 1205.1 2256.1 1205.1 2258.1 1205.1 2260.1 1205.1 2262.1 1205.1 2264.1 1205.1 2266.1 1205.1 2268.1 1205.1 2270.1 1205.1 2272.1 1205.2 2274.1 1205.2 2276.1 1205.2 2278.1 1205.2 2280.1 1205.2 2282.1 1205.2 2284.1 1205.2 2286.1 1205.2 2288.1 1205.2 2290.1 1205.2 2292.1 1205.2 2294.1 1205.2 2296.1 1205.2 2298.1 1205.2 2300.1 1205.2 2302.1 1205.2 2304.1 1205.2 2306.1 1205.2 2308.1 1205.2 2310.1 1205.2 2312.1 1205.2 2314.1 1205.2 2316.1 1205.2 2318.1 1205.2 2320.1 1205.2 2322.1 1205.2 2324.1 1205.2 2326.1 1205.2 2328.1 1205.2 2330.1 1205.2 2332.1 1205.2 2334.1 1205.2 2336.1 1205.2 2338.1 1205.2 2340.1 1205.2 2342.1 1205.2 2344.1 1205.2 2346.1 1205.2 2348.0 1205.2 2350.0 1205.2 2352.0 1205.2 2354.0 1205.2 2356.0 1205.2 2358.0 1205.2 2360.0 1205.2 2362.0 1205.2 2364.0 1205.2 2366.0 1205.2 2368.0 1205.2 2370.0 1205.2 2372.0 1205.2 2374.0 1205.2 2376.0 1205.2 2378.0 1205.2 2380.0 1205.2 2382.0 1205.2 2384.0 1205.2 2386.0 1205.2 2388.0 1205.2 2390.0 1205.2 2392.0 1205.2 2394.0 1205.2 2396.0 1205.2 2398.0 1205.2 2400.0 1205.2 2402.0 1205.2 2404.0 1205.2 2406.0 1205.2 2408.0 1205.2 2410.0 1205.2 2412.0 1205.2 2414.0 1205.2 2416.0 1205.2 2418.0 1205.2 2420.0 1205.3" stroke="#1873C9"/>
<path d="M564.3 1206.2L566.3 1205.9 568.3 1205.7 570.2 1205.6 572.2 1205.4 574.2 1205.3 576.2 1205.1 578.2 1205.0 580.2 1204.8 582.2 1204.7 584.2 1204.6 586.1 1204.4 588.1 1204.3 590.1 1204.1 592.1 1204.0 594.1 1203.9 596.1 1203.7 598.1 1203.6 600.1 1203.4 602.1 1203.3 604.1 1203.1 606.1 1203.0 608.1 1202.8 610.1 1202.7 612.1 1202.5 614.1 1202.3 616.1 1202.2 618.1 1202.0 620.1 1201.8 622.1 1201.6 624.1 1201.4 626.1 1201.2 628.1 1200.9 630.1 1200.7 632.1 1200.5 634.1 1200.2 636.0 1199.9 638.0 1199.7 640.0 1199.4 642.0 1199.1 644.0 1198.8 645.9 1198.5 647.9 1198.1 649.9 1197.8 651.8 1197.4 653.8 1197.0 655.8 1196.7 657.7 1196.3 659.7 1195.8 661.6 1195.4 663.6 1195.0 665.5 1194.5 667.5 1194.1 669.4 1193.6 671.3 1193.1 673.3 1192.6 675.2 1192.1 677.1 1191.6 679.1 1191.0 681.0 1190.5 682.9 1189.9 684.8 1189.4 686.7 1188.8 688.6 1188.2 690.6 1187.6 692.5 1187.0 694.4 1186.4 696.3 1185.8 698.2 1185.1 700.0 1184.5 701.9 1183.8 703.8 1183.2 705.7 1182.5 707.6 1181.8 709.5 1181.1 711.3 1180.4 713.2 1179.7 715.1 1179.0 716.9 1178.3 718.8 1177.6 720.7 1176.8 722.5 1176.1 724.4 1175.4 726.2 1174.6 728.1 1173.8 729.9 1173.1 731.7 1172.3 733.6 1171.5 735.4 1170.7 737.2 1169.9 739.1 1169.1 740.9 1168.3 742.7 1167.5 744.5 1166.7 746.3 1165.9 748.1 1165.0 749.9 1164.2 751.7 1163.4 753.6 1162.5 755.3 1161.7 757.1 1160.8 758.9 1159.9 760.7 1159.1 762.5 1158.2 764.3 1157.3 766.1 1156.4 767.8 1155.5 769.6 1154.6 771.4 1153.6 773.2 1152.7 774.9 1151.8 776.7 1150.8 778.5 1149.9 780.2 1148.9 782.0 1147.9 783.7 1146.9 785.5 1145.9 787.2 1144.9 789.0 1143.9 790.7 1142.9 792.4 1141.9 794.2 1140.8 795.9 1139.8 797.6 1138.7 799.3 1137.6 801.0 1136.5 802.7 1135.4 804.4 1134.2 806.0 1133.1 807.7 1131.9 809.3 1130.7 810.9 1129.5 812.4 1128.2 814.0 1127.0 815.5 1125.7 817.0 1124.4 818.4 1123.0 819.9 1121.7 821.2 1120.3 822.6 1118.8 823.9 1117.4 825.2 1115.9 826.4 1114.4 827.6 1112.8 828.8 1111.3 829.9 1109.7 831.0 1108.1 832.1 1106.4 833.2 1104.8 834.2 1103.1 835.2 1101.4 836.2 1099.6 837.1 1097.9 838.0 1096.1 838.9 1094.4 839.8 1092.6 840.7 1090.8 841.5 1088.9 842.3 1087.1 843.1 1085.2 843.9 1083.4 844.7 1081.5 845.5 1079.6 846.3 1077.8 847.0 1075.9 847.7 1074.0 848.5 1072.1 849.2 1070.2 849.9 1068.3 850.6 1066.3 851.4 1064.4 852.1 1062.5 852.8 1060.6 853.5 1058.7 854.2 1056.8 854.9 1054.9 855.7 1053.0 856.4 1051.1 857.1 1049.2 857.9 1047.4 858.6 1045.5 859.4 1043.6 860.2 1041.8 860.9 1039.9 861.7 1038.1 862.5 1036.3 863.4 1034.5 864.2 1032.7 865.0 1030.9 865.9 1029.1 866.7 1027.3 867.6 1025.5 868.4 1023.8 869.3 1022.0 870.1 1020.2 871.0 1018.5 871.9 1016.7 872.8 1014.9 873.7 1013.2 874.6 1011.4 875.4 1009.7 876.3 1007.9 877.2 1006.2 878.1 1004.4 879.0 1002.6 879.9 1000.9 880.8 999.1 881.7 997.3 882.6 995.5 883.5 993.7 884.4 992.0 885.3 990.2 886.1 988.4 887.0 986.5 887.9 984.7 888.8 982.9 889.6 981.1 890.5 979.2 891.3 977.4 892.2 975.5 893.0 973.6 893.9 971.7 894.8 969.9 895.6 968.0 896.5 966.2 897.5 964.4 898.4 962.6 899.4 960.9 900.4 959.1 901.5 957.5 902.6 955.8 903.8 954.2 905.0 952.7 906.3 951.2 907.6 949.8 909.0 948.5 910.5 947.2 912.1 946.0 913.7 944.9 915.4 943.9 917.3 943.0 919.1 942.3 921.1 941.9 923.1 941.7 925.1 941.8 927.1 942.2 929.1 942.8 930.9 943.6 932.6 944.6 934.2 945.7 935.8 947.0 937.2 948.3 938.5 949.7 939.8 951.3 941.0 952.9 942.2 954.5 943.4 956.1 944.5 957.8 945.6 959.5 946.7 961.2 947.7 962.9 948.8 964.6 949.8 966.3 950.8 968.0 951.8 969.8 952.8 971.5 953.8 973.3 954.7 975.0 955.7 976.8 956.6 978.6 957.5 980.3 958.4 982.1 959.3 983.9 960.2 985.7 961.0 987.5 961.9 989.3 962.8 991.1 963.6 992.9 964.5 994.7 965.3 996.6 966.1 998.4 967.0 1000.2 967.8 1002.0 968.6 1003.9 969.4 1005.7 970.2 1007.5 971.1 1009.3 971.9 1011.2 972.7 1013.0 973.5 1014.8 974.3 1016.6 975.2 1018.5 976.0 1020.3 976.8 1022.1 977.7 1023.9 978.5 1025.7 979.4 1027.5 980.2 1029.4 981.1 1031.2 982.0 1032.9 982.8 1034.7 983.7 1036.5 984.6 1038.3 985.5 1040.1 986.5 1041.8 987.4 1043.6 988.4 1045.4 989.3 1047.1 990.3 1048.8 991.3 1050.6 992.3 1052.3 993.3 1054.0 994.4 1055.7 995.4 1057.4 996.4 1059.1 997.5 1060.8 998.6 1062.5 999.7 1064.2 1000.8 1065.9 1001.9 1067.5 1003.0 1069.2 1004.1 1070.8 1005.3 1072.5 1006.4 1074.1 1007.6 1075.8 1008.7 1077.4 1009.9 1079.0 1011.1 1080.6 1012.3 1082.2 1013.5 1083.8 1014.7 1085.4 1015.9 1087.0 1017.1 1088.6 1018.3 1090.2 1019.6 1091.7 1020.8 1093.3 1022.1 1094.9 1023.3 1096.4 1024.6 1098.0 1025.8 1099.5 1027.1 1101.1 1028.4 1102.6 1029.7 1104.1 1031.0 1105.6 1032.3 1107.1 1033.6 1108.7 1034.9 1110.1 1036.2 1111.6 1037.6 1113.1 1038.9 1114.6 1040.3 1116.1 1041.6 1117.5 1043.0 1119.0 1044.4 1120.4 1045.7 1121.9 1047.1 1123.3 1048.5 1124.7 1049.9 1126.1 1051.4 1127.5 1052.8 1128.9 1054.2 1130.3 1055.7 1131.7 1057.1 1133.1 1058.6 1134.5 1060.0 1135.8 1061.5 1137.2 1063.0 1138.5 1064.5 1139.8 1066.0 1141.1 1067.5 1142.4 1069.0 1143.7 1070.6 1145.0 1072.1 1146.3 1073.7 1147.6 1075.2 1148.8 1076.8 1150.1 1078.4 1151.3 1080.0 1152.6 1081.6 1153.8 1083.2 1155.0 1084.8 1156.2 1086.4 1157.4 1088.1 1158.5 1089.7 1159.7 1091.3 1160.8 1093.0 1162.0 1094.7 1163.1 1096.3 1164.2 1098.0 1165.3 1099.7 1166.4 1101.4 1167.5 1103.1 1168.5 1104.8 1169.6 1106.5 1170.6 1108.2 1171.6 1110.0 1172.7 1111.7 1173.7 1113.5 1174.6 1115.2 1175.6 1117.0 1176.6 1118.7 1177.5 1120.5 1178.4 1122.3 1179.3 1124.1 1180.2 1125.9 1181.1 1127.7 1182.0 1129.5 1182.8 1131.3 1183.7 1133.1 1184.5 1134.9 1185.3 1136.8 1186.1 1138.6 1186.8 1140.5 1187.6 1142.3 1188.3 1144.2 1189.1 1146.0 1189.8 1147.9 1190.5 1149.8 1191.1 1151.6 1191.8 1153.5 1192.4 1155.4 1193.1 1157.3 1193.7 1159.2 1194.2 1161.1 1194.8 1163.0 1195.4 1164.9 1195.9 1166.8 1196.4 1168.8 1196.9 1170.7 1197.4 1172.6 1197.9 1174.5 1198.3 1176.5 1198.7 1178.4 1199.1 1180.4 1199.5 1182.3 1199.9 1184.3 1200.2 1186.3 1200.6 1188.2 1200.9 1190.2 1201.1 1192.2 1201.4 1194.1 1201.7 1196.1 1201.9 1198.1 1202.1 1200.1 1202.3 1202.1 1202.5 1204.1 1202.6 1206.1 1202.8 1208.1 1202.9 1210.1 1203.0 1212.1 1203.1 1214.1 1203.2 1216.1 1203.3 1218.1 1203.3 1220.1 1203.4 1222.1 1203.4 1224.1 1203.4 1226.1 1203.4 1228.1 1203.4 1230.2 1203.4 1232.2 1203.4 1234.2 1203.4 1236.2 1203.3 1238.2 1203.3 1240.3 1203.2 1242.3 1203.1 1244.3 1203.1 1246.3 1203.0 1248.3 1202.9 1250.4 1202.8 1252.4 1202.7 1254.4 1202.6 1256.4 1202.5 1258.4 1202.4 1260.4 1202.3 1262.5 1202.2 1264.5 1202.0 1266.5 1201.9 1268.5 1201.8 1270.5 1201.7 1272.5 1201.5 1274.5 1201.4 1276.5 1201.3 1278.5 1201.1 1280.5 1201.0 1282.5 1200.9 1284.5 1200.8 1286.5 1200.6 1288.5 1200.5 1290.5 1200.4 1292.5 1200.3 1294.5 1200.2 1296.5 1200.0 1298.5 1199.9 1300.4 1199.8 1302.4 1199.7 1304.4 1199.6 1306.4 1199.5 1308.4 1199.4 1310.4 1199.3 1312.4 1199.2 1314.3 1199.1 1316.3 1199.0 1318.3 1198.9 1320.3 1198.8 1322.3 1198.8 1324.2 1198.7 1326.2 1198.6 1328.2 1198.5 1330.2 1198.5 1332.2 1198.4 1334.2 1198.4 1336.2 1198.3 1338.2 1198.3 1340.1 1198.3 1342.1 1198.2 1344.1 1198.2 1346.1 1198.2 1348.1 1198.2 1350.1 1198.1 1352.1 1198.1 1354.1 1198.1 1356.1 1198.1 1358.1 1198.1 1360.1 1198.1 1362.1 1198.1 1364.1 1198.1 1366.1 1198.1 1368.1 1198.1 1370.1 1198.2 1372.1 1198.2 1374.1 1198.2 1376.1 1198.2 1378.1 1198.3 1380.1 1198.3 1382.1 1198.3 1384.1 1198.4 1386.1 1198.4 1388.1 1198.4 1390.1 1198.5 1392.1 1198.5 1394.1 1198.6 1396.1 1198.6 1398.1 1198.6 1400.1 1198.7 1402.1 1198.7 1404.1 1198.8 1406.1 1198.8 1408.1 1198.9 1410.1 1198.9 1412.1 1199.0 1414.1 1199.0 1416.1 1199.1 1418.1 1199.2 1420.1 1199.2 1422.1 1199.3 1424.1 1199.3 1426.1 1199.4 1428.1 1199.4 1430.1 1199.5 1432.1 1199.5 1434.1 1199.6 1436.1 1199.6 1438.1 1199.7 1440.1 1199.7 1442.1 1199.8 1444.1 1199.8 1446.1 1199.9 1448.1 1199.9 1450.2 1200.0 1452.2 1200.1 1454.2 1200.1 1456.2 1200.2 1458.2 1200.2 1460.2 1200.3 1462.2 1200.3 1464.2 1200.4 1466.2 1200.4 1468.2 1200.5 1470.2 1200.5 1472.2 1200.6 1474.2 1200.6 1476.2 1200.7 1478.2 1200.7 1480.2 1200.8 1482.2 1200.8 1484.2 1200.9 1486.2 1200.9 1488.2 1201.0 1490.2 1201.0 1492.2 1201.1 1494.2 1201.1 1496.2 1201.2 1498.2 1201.2 1500.2 1201.3 1502.2 1201.3 1504.2 1201.4 1506.2 1201.4 1508.2 1201.5 1510.2 1201.5 1512.2 1201.6 1514.2 1201.6 1516.2 1201.7 1518.2 1201.7 1520.2 1201.8 1522.2 1201.8 1524.2 1201.9 1526.2 1201.9 1528.2 1202.0 1530.2 1202.0 1532.2 1202.1 1534.2 1202.1 1536.2 1202.2 1538.2 1202.2 1540.2 1202.3 1542.2 1202.3 1544.2 1202.4 1546.2 1202.4 1548.2 1202.5 1550.2 1202.5 1552.2 1202.6 1554.2 1202.6 1556.2 1202.7 1558.2 1202.7 1560.2 1202.7 1562.2 1202.8 1564.2 1202.8 1566.2 1202.9 1568.2 1202.9 1570.2 1203.0 1572.2 1203.0 1574.2 1203.1 1576.2 1203.1 1578.2 1203.2 1580.2 1203.2 1582.2 1203.2 1584.2 1203.3 1586.1 1203.3 1588.1 1203.4 1590.1 1203.4 1592.1 1203.5 1594.1 1203.5 1596.1 1203.5 1598.1 1203.6 1600.1 1203.6 1602.1 1203.7 1604.1 1203.7 1606.1 1203.7 1608.1 1203.8 1610.1 1203.8 1612.1 1203.9 1614.1 1203.9 1616.1 1203.9 1618.1 1204.0 1620.1 1204.0 1622.1 1204.1 1624.1 1204.1 1626.1 1204.1 1628.1 1204.2 1630.1 1204.2 1632.1 1204.2 1634.1 1204.3 1636.1 1204.3 1638.1 1204.3 1640.1 1204.4 1642.1 1204.4 1644.1 1204.5 1646.1 1204.5 1648.1 1204.5 1650.1 1204.6 1652.1 1204.6 1654.1 1204.6 1656.1 1204.7 1658.1 1204.7 1660.1 1204.7 1662.1 1204.7 1664.1 1204.8 1666.1 1204.8 1668.1 1204.8 1670.1 1204.9 1672.1 1204.9 1674.1 1204.9 1676.1 1205.0 1678.1 1205.0 1680.1 1205.0 1682.1 1205.0 1684.1 1205.1 1686.1 1205.1 1688.1 1205.1 1690.1 1205.1 1692.1 1205.2 1694.1 1205.2 1696.1 1205.2 1698.1 1205.2 1700.1 1205.3 1702.1 1205.3 1704.1 1205.3 1706.1 1205.3 1708.1 1205.4 1710.1 1205.4 1712.1 1205.4 1714.0 1205.4 1716.0 1205.4 1718.0 1205.5 1720.0 1205.5 1722.0 1205.5 1724.0 1205.5 1726.0 1205.5 1728.0 1205.6 1730.0 1205.6 1732.0 1205.6 1734.0 1205.6 1736.0 1205.6 1738.0 1205.7 1740.0 1205.7 1742.0 1205.7 1744.0 1205.7 1746.0 1205.7 1748.0 1205.7 1750.0 1205.7 1752.0 1205.8 1754.0 1205.8 1756.0 1205.8 1758.0 1205.8 1760.0 1205.8 1762.0 1205.8 1764.0 1205.8 1766.0 1205.8 1768.0 1205.9 1770.0 1205.9 1772.0 1205.9 1774.0 1205.9 1776.0 1205.9 1778.0 1205.9 1780.0 1205.9 1782.0 1205.9 1784.0 1205.9 1786.0 1205.9 1788.0 1205.9 1790.0 1206.0 1792.0 1206.0 1794.0 1206.0 1796.0 1206.0 1798.0 1206.0 1800.0 1206.0 1802.0 1206.0 1804.0 1206.0 1806.0 1206.0 1808.0 1206.0 1810.0 1206.0 1812.0 1206.0 1814.0 1206.0 1816.0 1206.0 1818.0 1206.0 1820.0 1206.0 1822.0 1206.0 1824.0 1206.0 1826.0 1206.0 1828.0 1206.0 1830.0 1206.0 1832.0 1206.0 1834.0 1206.0 1836.0 1206.1 1838.0 1206.1 1840.0 1206.1 1842.0 1206.1 1844.0 1206.1 1846.0 1206.1 1848.0 1206.1 1850.0 1206.1 1852.0 1206.1 1854.0 1206.0 1856.0 1206.0 1858.0 1206.0 1860.0 1206.0 1862.0 1206.0 1864.0 1206.0 1866.0 1206.0 1868.0 1206.0 1870.0 1206.0 1872.0 1206.0 1874.0 1206.0 1876.0 1206.0 1878.0 1206.0 1880.0 1206.0 1882.0 1206.0 1884.0 1206.0 1886.0 1206.0 1888.0 1206.0 1890.0 1206.0 1892.0 1206.0 1894.0 1206.0 1896.0 1206.0 1898.0 1206.0 1900.0 1206.0 1902.0 1206.0 1904.0 1206.0 1906.0 1205.9 1908.0 1205.9 1910.0 1205.9 1912.0 1205.9 1914.0 1205.9 1916.0 1205.9 1918.0 1205.9 1920.0 1205.9 1922.0 1205.9 1924.0 1205.9 1926.0 1205.9 1928.0 1205.9 1930.0 1205.9 1932.0 1205.8 1934.0 1205.8 1936.0 1205.8 1938.0 1205.8 1940.0 1205.8 1942.0 1205.8 1944.0 1205.8 1946.0 1205.8 1948.0 1205.8 1950.0 1205.8 1952.0 1205.8 1954.0 1205.7 1956.0 1205.7 1958.0 1205.7 1960.0 1205.7 1962.0 1205.7 1964.0 1205.7 1966.0 1205.7 1968.0 1205.7 1970.0 1205.7 1972.0 1205.7 1974.0 1205.6 1976.0 1205.6 1978.0 1205.6 1980.0 1205.6 1982.0 1205.6 1984.0 1205.6 1986.0 1205.6 1988.0 1205.6 1990.0 1205.6 1992.0 1205.5 1994.0 1205.5 1996.0 1205.5 1998.0 1205.5 2000.0 1205.5 2002.0 1205.5 2004.0 1205.5 2006.0 1205.5 2008.0 1205.5 2010.0 1205.4 2012.0 1205.4 2014.0 1205.4 2016.0 1205.4 2018.0 1205.4 2020.0 1205.4 2022.0 1205.4 2024.0 1205.4 2026.0 1205.3 2028.0 1205.3 2030.0 1205.3 2032.0 1205.3 2034.0 1205.3 2036.0 1205.3 2038.0 1205.3 2040.0 1205.3 2042.0 1205.2 2044.0 1205.2 2046.0 1205.2 2048.0 1205.2 2050.0 1205.2 2052.0 1205.2 2054.0 1205.2 2056.0 1205.2 2058.0 1205.1 2060.0 1205.1 2062.0 1205.1 2064.0 1205.1 2066.0 1205.1 2068.0 1205.1 2070.0 1205.1 2072.0 1205.1 2074.0 1205.0 2076.0 1205.0 2078.0 1205.0 2080.0 1205.0 2082.0 1205.0 2084.0 1205.0 2086.0 1205.0 2088.0 1205.0 2090.0 1205.0 2092.0 1204.9 2094.0 1204.9 2096.0 1204.9 2098.0 1204.9 2100.0 1204.9 2102.0 1204.9 2104.0 1204.9 2106.0 1204.9 2108.0 1204.8 2110.0 1204.8 2112.0 1204.8 2114.0 1204.8 2116.0 1204.8 2118.1 1204.8 2120.1 1204.8 2122.1 1204.8 2124.1 1204.8 2126.1 1204.8 2128.1 1204.7 2130.1 1204.7 2132.1 1204.7 2134.1 1204.7 2136.1 1204.7 2138.1 1204.7 2140.1 1204.7 2142.1 1204.7 2144.1 1204.7 2146.1 1204.7 2148.1 1204.6 2150.1 1204.6 2152.1 1204.6 2154.1 1204.6 2156.1 1204.6 2158.1 1204.6 2160.1 1204.6 2162.1 1204.6 2164.1 1204.6 2166.1 1204.6 2168.1 1204.6 2170.1 1204.5 2172.1 1204.5 2174.1 1204.5 2176.1 1204.5 2178.1 1204.5 2180.1 1204.5 2182.1 1204.5 2184.1 1204.5 2186.1 1204.5 2188.1 1204.5 2190.1 1204.5 2192.1 1204.5 2194.1 1204.5 2196.1 1204.5 2198.1 1204.5 2200.1 1204.5 2202.1 1204.4 2204.1 1204.4 2206.1 1204.4 2208.1 1204.4 2210.1 1204.4 2212.1 1204.4 2214.1 1204.4 2216.1 1204.4 2218.1 1204.4 2220.1 1204.4 2222.1 1204.4 2224.1 1204.4 2226.1 1204.4 2228.1 1204.4 2230.1 1204.4 2232.1 1204.4 2234.1 1204.4 2236.1 1204.4 2238.1 1204.4 2240.1 1204.4 2242.1 1204.4 2244.1 1204.4 2246.1 1204.4 2248.1 1204.4 2250.1 1204.4 2252.1 1204.4 2254.1 1204.4 2256.1 1204.4 2258.1 1204.4 2260.1 1204.4 2262.1 1204.4 2264.1 1204.4 2266.1 1204.4 2268.1 1204.4 2270.1 1204.4 2272.1 1204.4 2274.1 1204.4 2276.1 1204.4 2278.1 1204.4 2280.1 1204.4 2282.1 1204.4 2284.1 1204.4 2286.1 1204.4 2288.1 1204.4 2290.1 1204.4 2292.1 1204.5 2294.1 1204.5 2296.1 1204.5 2298.1 1204.5 2300.1 1204.5 2302.1 1204.5 2304.1 1204.5 2306.1 1204.5 2308.1 1204.5 2310.1 1204.5 2312.1 1204.5 2314.1 1204.5 2316.1 1204.5 2318.0 1204.6 2320.0 1204.6 2322.0 1204.6 2324.0 1204.6 2326.0 1204.6 2328.0 1204.6 2330.0 1204.6 2332.0 1204.6 2334.0 1204.6 2336.0 1204.7 2338.0 1204.7 2340.0 1204.7 2342.0 1204.7 2344.0 1204.7 2346.0 1204.7 2348.0 1204.7 2350.0 1204.8 2352.0 1204.8 2354.0 1204.8 2356.0 1204.8 2358.0 1204.8 2360.0 1204.8 2362.0 1204.9 2364.0 1204.9 2366.0 1204.9 2368.0 1204.9 2370.0 1204.9 2372.0 1205.0 2374.0 1205.0 2376.0 1205.0 2378.0 1205.0 2380.0 1205.0 2382.0 1205.1 2384.0 1205.1 2386.0 1205.1 2388.0 1205.1 2390.0 1205.2 2392.0 1205.2 2394.0 1205.2 2396.0 1205.2 2398.0 1205.3 2400.0 1205.3 2402.0 1205.3 2404.0 1205.3 2406.0 1205.4 2408.0 1205.4 2410.0 1205.4 2412.0 1205.4 2414.0 1205.5 2416.0 1205.5 2418.0 1205.5 2420.0 1205.5" stroke="#E00000"/>
<path d="M564.3 1206.2L566.3 1205.9 568.3 1205.7 570.2 1205.6 572.2 1205.5 574.2 1205.3 576.2 1205.2 578.2 1205.1 580.2 1205.0 582.2 1204.8 584.2 1204.7 586.2 1204.6 588.1 1204.5 590.1 1204.3 592.1 1204.2 594.1 1204.1 596.1 1204.0 598.1 1203.8 600.1 1203.7 602.1 1203.5 604.1 1203.4 606.1 1203.2 608.1 1203.1 610.1 1202.9 612.1 1202.8 614.1 1202.6 616.1 1202.4 618.1 1202.2 620.1 1202.0 622.1 1201.9 624.1 1201.6 626.1 1201.4 628.1 1201.2 630.1 1201.0 632.1 1200.7 634.0 1200.5 636.0 1200.2 638.0 1200.0 640.0 1199.7 642.0 1199.4 643.9 1199.1 645.9 1198.8 647.9 1198.4 649.9 1198.1 651.8 1197.7 653.8 1197.4 655.8 1197.0 657.7 1196.6 659.7 1196.2 661.6 1195.8 663.6 1195.4 665.5 1194.9 667.5 1194.5 669.4 1194.0 671.3 1193.5 673.3 1193.1 675.2 1192.6 677.1 1192.1 679.1 1191.5 681.0 1191.0 682.9 1190.5 684.8 1189.9 686.8 1189.4 688.7 1188.8 690.6 1188.2 692.5 1187.6 694.4 1187.0 696.3 1186.4 698.2 1185.8 700.1 1185.1 702.0 1184.5 703.9 1183.9 705.7 1183.2 707.6 1182.5 709.5 1181.8 711.4 1181.1 713.2 1180.4 715.1 1179.7 717.0 1179.0 718.8 1178.3 720.7 1177.6 722.5 1176.8 724.4 1176.1 726.2 1175.3 728.1 1174.5 729.9 1173.8 731.7 1173.0 733.6 1172.2 735.4 1171.4 737.2 1170.6 739.1 1169.8 740.9 1168.9 742.7 1168.1 744.5 1167.3 746.3 1166.4 748.1 1165.6 749.9 1164.7 751.7 1163.8 753.5 1163.0 755.3 1162.1 757.1 1161.2 758.9 1160.4 760.7 1159.5 762.5 1158.6 764.3 1157.7 766.1 1156.9 767.9 1156.0 769.7 1155.1 771.5 1154.2 773.3 1153.3 775.1 1152.5 776.9 1151.6 778.7 1150.7 780.6 1149.9 782.4 1149.0 784.2 1148.1 786.0 1147.3 787.8 1146.4 789.6 1145.5 791.4 1144.6 793.2 1143.6 794.9 1142.7 796.7 1141.8 798.4 1140.8 800.1 1139.8 801.8 1138.7 803.5 1137.7 805.2 1136.6 806.8 1135.5 808.4 1134.4 810.0 1133.2 811.5 1131.9 813.0 1130.7 814.5 1129.4 816.0 1128.1 817.4 1126.7 818.8 1125.3 820.2 1123.9 821.6 1122.5 822.9 1121.0 824.2 1119.5 825.5 1118.0 826.7 1116.4 827.9 1114.8 829.2 1113.3 830.3 1111.6 831.5 1110.0 832.6 1108.4 833.8 1106.7 834.9 1105.0 836.0 1103.4 837.0 1101.7 838.1 1100.0 839.1 1098.2 840.1 1096.5 841.1 1094.7 842.0 1093.0 843.0 1091.2 843.9 1089.4 844.9 1087.6 845.8 1085.8 846.6 1084.0 847.5 1082.2 848.4 1080.4 849.2 1078.6 850.1 1076.7 850.9 1074.9 851.7 1073.1 852.5 1071.2 853.4 1069.4 854.2 1067.5 855.0 1065.7 855.8 1063.8 856.6 1062.0 857.4 1060.1 858.2 1058.3 859.0 1056.5 859.8 1054.6 860.7 1052.8 861.5 1051.0 862.3 1049.2 863.2 1047.3 864.0 1045.5 864.9 1043.8 865.8 1042.0 866.7 1040.2 867.6 1038.5 868.5 1036.7 869.5 1035.0 870.4 1033.3 871.4 1031.5 872.4 1029.9 873.5 1028.2 874.5 1026.5 875.6 1024.9 876.7 1023.3 877.8 1021.7 879.0 1020.1 880.2 1018.5 881.4 1017.0 882.6 1015.4 883.9 1013.9 885.1 1012.4 886.4 1010.9 887.7 1009.4 889.0 1007.9 890.4 1006.5 891.7 1005.0 893.1 1003.5 894.4 1002.1 895.8 1000.6 897.2 999.2 898.6 997.7 900.0 996.3 901.4 994.9 902.8 993.5 904.3 992.1 905.7 990.7 907.2 989.3 908.7 987.9 910.2 986.6 911.8 985.3 913.3 984.0 914.9 982.8 916.5 981.6 918.1 980.4 919.7 979.2 921.4 978.1 923.1 977.0 924.8 975.9 926.5 974.9 928.3 974.0 930.1 973.1 931.9 972.2 933.7 971.4 935.6 970.6 937.5 969.9 939.4 969.2 941.4 968.7 943.3 968.1 945.3 967.6 947.2 967.2 949.2 966.9 951.2 966.6 953.2 966.4 955.1 966.3 957.1 966.3 959.0 966.3 961.0 966.4 962.9 966.6 964.8 966.9 966.7 967.2 968.6 967.7 970.4 968.2 972.2 968.8 974.0 969.5 975.8 970.3 977.5 971.2 979.2 972.1 980.9 973.1 982.6 974.1 984.2 975.2 985.8 976.4 987.4 977.6 989.0 978.9 990.5 980.2 992.0 981.5 993.5 983.0 995.0 984.4 996.4 985.9 997.8 987.4 999.1 989.0 1000.5 990.6 1001.8 992.2 1003.1 993.8 1004.3 995.5 1005.5 997.1 1006.7 998.8 1007.9 1000.5 1009.0 1002.2 1010.1 1003.9 1011.1 1005.6 1012.2 1007.4 1013.2 1009.1 1014.2 1010.8 1015.1 1012.6 1016.1 1014.4 1017.0 1016.1 1017.9 1017.9 1018.8 1019.7 1019.7 1021.4 1020.6 1023.2 1021.4 1025.0 1022.3 1026.8 1023.1 1028.6 1023.9 1030.4 1024.7 1032.2 1025.6 1034.0 1026.4 1035.8 1027.2 1037.6 1028.0 1039.4 1028.8 1041.2 1029.6 1043.0 1030.4 1044.8 1031.3 1046.6 1032.1 1048.4 1033.0 1050.2 1033.8 1052.0 1034.7 1053.8 1035.5 1055.6 1036.4 1057.4 1037.3 1059.2 1038.1 1061.0 1039.0 1062.8 1039.9 1064.6 1040.8 1066.4 1041.7 1068.1 1042.6 1069.9 1043.4 1071.7 1044.3 1073.5 1045.2 1075.4 1046.1 1077.2 1047.0 1079.0 1047.8 1080.8 1048.7 1082.6 1049.6 1084.4 1050.4 1086.2 1051.3 1088.0 1052.1 1089.9 1053.0 1091.7 1053.8 1093.5 1054.7 1095.4 1055.5 1097.2 1056.4 1099.0 1057.2 1100.8 1058.1 1102.6 1059.0 1104.4 1059.9 1106.1 1060.9 1107.9 1061.8 1109.7 1062.8 1111.4 1063.8 1113.1 1064.9 1114.8 1066.0 1116.5 1067.1 1118.1 1068.2 1119.7 1069.4 1121.3 1070.6 1122.9 1071.9 1124.4 1073.2 1126.0 1074.5 1127.5 1075.8 1128.9 1077.2 1130.4 1078.6 1131.8 1080.0 1133.2 1081.5 1134.5 1083.0 1135.9 1084.5 1137.2 1086.0 1138.4 1087.6 1139.7 1089.2 1140.9 1090.8 1142.1 1092.4 1143.2 1094.0 1144.4 1095.7 1145.5 1097.3 1146.5 1099.0 1147.6 1100.7 1148.6 1102.5 1149.6 1104.2 1150.6 1105.9 1151.5 1107.7 1152.5 1109.5 1153.4 1111.2 1154.3 1113.0 1155.2 1114.8 1156.1 1116.6 1157.0 1118.4 1157.9 1120.3 1158.7 1122.1 1159.6 1123.9 1160.4 1125.7 1161.3 1127.6 1162.1 1129.4 1163.0 1131.2 1163.8 1133.0 1164.7 1134.9 1165.5 1136.7 1166.4 1138.5 1167.2 1140.3 1168.1 1142.2 1168.9 1144.0 1169.8 1145.8 1170.6 1147.6 1171.5 1149.5 1172.3 1151.3 1173.1 1153.1 1174.0 1155.0 1174.8 1156.8 1175.6 1158.6 1176.4 1160.5 1177.2 1162.3 1178.0 1164.1 1178.8 1166.0 1179.6 1167.8 1180.3 1169.7 1181.1 1171.5 1181.9 1173.4 1182.6 1175.2 1183.3 1177.1 1184.1 1178.9 1184.8 1180.8 1185.5 1182.6 1186.1 1184.5 1186.8 1186.4 1187.5 1188.3 1188.1 1190.2 1188.7 1192.0 1189.3 1193.9 1189.9 1195.8 1190.5 1197.7 1191.1 1199.6 1191.6 1201.5 1192.1 1203.5 1192.7 1205.4 1193.1 1207.3 1193.6 1209.3 1194.0 1211.2 1194.5 1213.1 1194.9 1215.1 1195.3 1217.0 1195.6 1219.0 1196.0 1221.0 1196.3 1222.9 1196.6 1224.9 1196.9 1226.9 1197.2 1228.9 1197.5 1230.9 1197.7 1232.9 1198.0 1234.9 1198.2 1236.9 1198.4 1238.9 1198.6 1240.9 1198.9 1242.9 1199.1 1244.9 1199.3 1246.9 1199.4 1248.9 1199.6 1250.9 1199.8 1252.9 1200.0 1254.9 1200.2 1256.9 1200.4 1258.9 1200.5 1260.9 1200.7 1262.9 1200.9 1264.9 1201.1 1266.9 1201.3 1268.9 1201.5 1270.9 1201.7 1272.9 1201.9 1274.9 1202.1 1276.9 1202.3 1278.9 1202.5 1280.9 1202.7 1282.9 1202.9 1284.8 1203.2 1286.8 1203.4 1288.8 1203.6 1290.8 1203.8 1292.8 1204.0 1294.8 1204.2 1296.7 1204.4 1298.7 1204.6 1300.7 1204.7 1302.7 1204.9 1304.7 1205.0 1306.7 1205.2 1308.7 1205.3 1310.7 1205.4 1312.6 1205.5 1314.6 1205.6 1316.6 1205.7 1318.6 1205.8 1320.6 1205.8 1322.6 1205.9 1324.6 1206.0 1326.6 1206.0 1328.6 1206.0 1330.6 1206.1 1332.6 1206.1 1334.6 1206.1 1336.6 1206.2 1338.6 1206.2 1340.6 1206.2 1342.6 1206.2 1344.6 1206.2 1346.6 1206.2 1348.6 1206.2 1350.6 1206.2 1352.6 1206.2 1354.6 1206.2 1356.6 1206.2 1358.6 1206.2 1360.6 1206.1 1362.6 1206.1 1364.6 1206.1 1366.6 1206.1 1368.6 1206.1 1370.6 1206.1 1372.6 1206.1 1374.6 1206.1 1376.6 1206.1 1378.6 1206.0 1380.6 1206.0 1382.6 1206.0 1384.6 1206.0 1386.6 1206.0 1388.6 1206.0 1390.6 1206.0 1392.6 1206.0 1394.6 1206.0 1396.6 1206.0 1398.6 1205.9 1400.6 1205.9 1402.6 1205.9 1404.6 1205.9 1406.6 1205.9 1408.6 1205.9 1410.6 1205.9 1412.6 1205.9 1414.6 1205.9 1416.6 1205.9 1418.6 1205.8 1420.6 1205.8 1422.6 1205.8 1424.6 1205.8 1426.6 1205.8 1428.6 1205.8 1430.6 1205.8 1432.6 1205.8 1434.6 1205.8 1436.6 1205.8 1438.6 1205.7 1440.6 1205.7 1442.6 1205.7 1444.6 1205.7 1446.6 1205.7 1448.5 1205.7 1450.5 1205.7 1452.5 1205.7 1454.5 1205.7 1456.5 1205.7 1458.5 1205.6 1460.5 1205.6 1462.5 1205.6 1464.5 1205.6 1466.5 1205.6 1468.5 1205.6 1470.5 1205.6 1472.5 1205.6 1474.5 1205.6 1476.5 1205.6 1478.5 1205.6 1480.5 1205.5 1482.5 1205.5 1484.5 1205.5 1486.5 1205.5 1488.5 1205.5 1490.5 1205.5 1492.5 1205.5 1494.5 1205.5 1496.5 1205.5 1498.5 1205.5 1500.5 1205.5 1502.5 1205.5 1504.5 1205.5 1506.5 1205.4 1508.5 1205.4 1510.5 1205.4 1512.5 1205.4 1514.5 1205.4 1516.5 1205.4 1518.5 1205.4 1520.5 1205.4 1522.5 1205.4 1524.5 1205.4 1526.5 1205.4 1528.5 1205.4 1530.5 1205.4 1532.5 1205.4 1534.5 1205.4 1536.5 1205.4 1538.5 1205.3 1540.5 1205.3 1542.5 1205.3 1544.5 1205.3 1546.5 1205.3 1548.5 1205.3 1550.5 1205.3 1552.5 1205.3 1554.5 1205.3 1556.5 1205.3 1558.5 1205.3 1560.5 1205.3 1562.5 1205.3 1564.5 1205.3 1566.5 1205.3 1568.5 1205.3 1570.5 1205.3 1572.5 1205.3 1574.5 1205.3 1576.5 1205.3 1578.5 1205.2 1580.5 1205.2 1582.5 1205.2 1584.5 1205.2 1586.5 1205.2 1588.5 1205.2 1590.5 1205.2 1592.5 1205.2 1594.5 1205.2 1596.5 1205.2 1598.5 1205.2 1600.5 1205.2 1602.4 1205.2 1604.4 1205.2 1606.4 1205.2 1608.4 1205.2 1610.4 1205.2 1612.4 1205.2 1614.4 1205.2 1616.4 1205.2 1618.4 1205.2 1620.4 1205.2 1622.4 1205.2 1624.4 1205.2 1626.4 1205.2 1628.4 1205.2 1630.4 1205.2 1632.4 1205.2 1634.4 1205.2 1636.4 1205.2 1638.4 1205.2 1640.4 1205.2 1642.4 1205.2 1644.4 1205.2 1646.4 1205.2 1648.4 1205.2 1650.4 1205.1 1652.4 1205.1 1654.4 1205.1 1656.4 1205.1 1658.4 1205.1 1660.4 1205.1 1662.4 1205.1 1664.4 1205.1 1666.4 1205.1 1668.4 1205.1 1670.4 1205.1 1672.4 1205.1 1674.4 1205.1 1676.4 1205.1 1678.4 1205.1 1680.4 1205.1 1682.4 1205.1 1684.4 1205.1 1686.4 1205.1 1688.4 1205.1 1690.4 1205.1 1692.4 1205.1 1694.4 1205.1 1696.4 1205.1 1698.4 1205.1 1700.4 1205.1 1702.4 1205.1 1704.4 1205.1 1706.4 1205.1 1708.4 1205.1 1710.4 1205.1 1712.4 1205.1 1714.4 1205.1 1716.4 1205.1 1718.4 1205.1 1720.4 1205.1 1722.4 1205.1 1724.4 1205.1 1726.4 1205.1 1728.4 1205.1 1730.4 1205.1 1732.4 1205.1 1734.4 1205.1 1736.4 1205.1 1738.4 1205.1 1740.4 1205.1 1742.4 1205.1 1744.4 1205.1 1746.4 1205.1 1748.4 1205.1 1750.4 1205.2 1752.4 1205.2 1754.4 1205.2 1756.4 1205.2 1758.4 1205.2 1760.4 1205.2 1762.4 1205.2 1764.4 1205.2 1766.4 1205.2 1768.4 1205.2 1770.4 1205.2 1772.4 1205.2 1774.4 1205.2 1776.4 1205.2 1778.3 1205.2 1780.3 1205.2 1782.3 1205.2 1784.3 1205.2 1786.3 1205.2 1788.3 1205.2 1790.3 1205.2 1792.3 1205.2 1794.3 1205.2 1796.3 1205.2 1798.3 1205.2 1800.3 1205.2 1802.3 1205.2 1804.3 1205.2 1806.3 1205.2 1808.3 1205.2 1810.3 1205.2 1812.3 1205.2 1814.3 1205.2 1816.3 1205.2 1818.3 1205.2 1820.3 1205.2 1822.3 1205.2 1824.3 1205.2 1826.3 1205.2 1828.3 1205.2 1830.3 1205.2 1832.3 1205.2 1834.3 1205.2 1836.3 1205.2 1838.3 1205.2 1840.3 1205.3 1842.3 1205.3 1844.3 1205.3 1846.3 1205.3 1848.3 1205.3 1850.3 1205.3 1852.3 1205.3 1854.3 1205.3 1856.3 1205.3 1858.3 1205.3 1860.3 1205.3 1862.3 1205.3 1864.3 1205.3 1866.3 1205.3 1868.3 1205.3 1870.3 1205.3 1872.3 1205.3 1874.3 1205.3 1876.3 1205.3 1878.3 1205.3 1880.3 1205.3 1882.3 1205.3 1884.3 1205.3 1886.3 1205.3 1888.3 1205.3 1890.3 1205.3 1892.3 1205.3 1894.3 1205.3 1896.3 1205.3 1898.3 1205.4 1900.3 1205.4 1902.3 1205.4 1904.3 1205.4 1906.3 1205.4 1908.3 1205.4 1910.3 1205.4 1912.3 1205.4 1914.3 1205.4 1916.3 1205.4 1918.3 1205.4 1920.3 1205.4 1922.3 1205.4 1924.3 1205.4 1926.3 1205.4 1928.3 1205.4 1930.3 1205.4 1932.3 1205.4 1934.3 1205.4 1936.3 1205.4 1938.3 1205.4 1940.3 1205.4 1942.3 1205.4 1944.3 1205.4 1946.3 1205.4 1948.3 1205.5 1950.3 1205.5 1952.3 1205.5 1954.3 1205.5 1956.3 1205.5 1958.3 1205.5 1960.3 1205.5 1962.3 1205.5 1964.3 1205.5 1966.3 1205.5 1968.3 1205.5 1970.2 1205.5 1972.2 1205.5 1974.2 1205.5 1976.2 1205.5 1978.2 1205.5 1980.2 1205.5 1982.2 1205.5 1984.2 1205.5 1986.2 1205.5 1988.2 1205.5 1990.2 1205.5 1992.2 1205.5 1994.2 1205.5 1996.2 1205.5 1998.2 1205.6 2000.2 1205.6 2002.2 1205.6 2004.2 1205.6 2006.2 1205.6 2008.2 1205.6 2010.2 1205.6 2012.2 1205.6 2014.2 1205.6 2016.2 1205.6 2018.2 1205.6 2020.2 1205.6 2022.2 1205.6 2024.2 1205.6 2026.2 1205.6 2028.2 1205.6 2030.2 1205.6 2032.2 1205.6 2034.2 1205.6 2036.2 1205.6 2038.2 1205.6 2040.2 1205.6 2042.2 1205.6 2044.2 1205.6 2046.2 1205.7 2048.2 1205.7 2050.2 1205.7 2052.2 1205.7 2054.2 1205.7 2056.2 1205.7 2058.2 1205.7 2060.2 1205.7 2062.2 1205.7 2064.2 1205.7 2066.2 1205.7 2068.2 1205.7 2070.2 1205.7 2072.2 1205.7 2074.2 1205.7 2076.2 1205.7 2078.2 1205.7 2080.2 1205.7 2082.2 1205.7 2084.2 1205.7 2086.2 1205.7 2088.2 1205.7 2090.2 1205.7 2092.2 1205.7 2094.2 1205.7 2096.2 1205.7 2098.2 1205.8 2100.2 1205.8 2102.2 1205.8 2104.2 1205.8 2106.2 1205.8 2108.2 1205.8 2110.2 1205.8 2112.2 1205.8 2114.2 1205.8 2116.2 1205.8 2118.2 1205.8 2120.2 1205.8 2122.2 1205.8 2124.2 1205.8 2126.2 1205.8 2128.2 1205.8 2130.2 1205.8 2132.2 1205.8 2134.2 1205.8 2136.2 1205.8 2138.2 1205.8 2140.2 1205.8 2142.2 1205.8 2144.2 1205.8 2146.2 1205.8 2148.2 1205.8 2150.2 1205.8 2152.2 1205.8 2154.2 1205.8 2156.2 1205.8 2158.2 1205.8 2160.2 1205.9 2162.2 1205.9 2164.1 1205.9 2166.1 1205.9 2168.1 1205.9 2170.1 1205.9 2172.1 1205.9 2174.1 1205.9 2176.1 1205.9 2178.1 1205.9 2180.1 1205.9 2182.1 1205.9 2184.1 1205.9 2186.1 1205.9 2188.1 1205.9 2190.1 1205.9 2192.1 1205.9 2194.1 1205.9 2196.1 1205.9 2198.1 1205.9 2200.1 1205.9 2202.1 1205.9 2204.1 1205.9 2206.1 1205.9 2208.1 1205.9 2210.1 1205.9 2212.1 1205.9 2214.1 1205.9 2216.1 1205.9 2218.1 1205.9 2220.1 1205.9 2222.1 1205.9 2224.1 1205.9 2226.1 1205.9 2228.1 1205.9 2230.1 1205.9 2232.1 1205.9 2234.1 1205.9 2236.1 1205.9 2238.1 1205.9 2240.1 1205.9 2242.1 1205.9 2244.1 1205.9 2246.1 1205.9 2248.1 1205.9 2250.1 1205.9 2252.1 1205.9 2254.1 1205.9 2256.1 1205.9 2258.1 1205.9 2260.1 1205.9 2262.1 1205.9 2264.1 1205.9 2266.1 1205.9 2268.1 1205.9 2270.1 1205.9 2272.1 1205.9 2274.1 1205.9 2276.1 1205.9 2278.1 1205.9 2280.1 1205.9 2282.1 1205.9 2284.1 1205.9 2286.1 1205.9 2288.1 1205.9 2290.1 1205.9 2292.1 1205.9 2294.1 1205.9 2296.1 1205.9 2298.1 1205.9 2300.1 1205.9 2302.1 1205.9 2304.1 1205.9 2306.1 1205.9 2308.1 1205.9 2310.1 1205.9 2312.1 1205.9 2314.1 1205.9 2316.1 1205.9 2318.1 1205.9 2320.1 1205.9 2322.1 1205.9 2324.1 1205.9 2326.1 1205.9 2328.1 1205.9 2330.1 1205.9 2332.1 1205.9 2334.1 1205.9 2336.1 1205.9 2338.1 1205.9 2340.0 1205.9 2342.0 1205.9 2344.0 1205.9 2346.0 1205.9 2348.0 1205.9 2350.0 1205.9 2352.0 1205.9 2354.0 1205.9 2356.0 1205.9 2358.0 1205.9 2360.0 1205.9 2362.0 1205.9 2364.0 1205.9 2366.0 1205.9 2368.0 1205.9 2370.0 1205.9 2372.0 1205.9 2374.0 1205.9 2376.0 1205.9 2378.0 1205.9 2380.0 1205.9 2382.0 1205.9 2384.0 1205.9 2386.0 1205.9 2388.0 1205.9 2390.0 1205.9 2392.0 1205.9 2394.0 1205.8 2396.0 1205.8 2398.0 1205.8 2400.0 1205.8 2402.0 1205.8 2404.0 1205.8 2406.0 1205.8 2408.0 1205.8 2410.0 1205.8 2412.0 1205.8 2414.0 1205.8 2416.0 1205.8 2418.0 1205.8 2420.0 1205.8" stroke="#000000"/>
<path d="M564.3 1206.2L566.3 1205.9 568.3 1205.7 570.3 1205.6 572.2 1205.5 574.2 1205.4 576.2 1205.3 578.2 1205.1 580.2 1205.0 582.2 1204.9 584.2 1204.8 586.2 1204.7 588.2 1204.5 590.2 1204.4 592.2 1204.3 594.2 1204.1 596.2 1204.0 598.2 1203.9 600.2 1203.7 602.1 1203.6 604.1 1203.4 606.1 1203.3 608.1 1203.1 610.1 1202.9 612.1 1202.8 614.1 1202.6 616.1 1202.4 618.1 1202.2 620.1 1202.0 622.1 1201.8 624.1 1201.6 626.0 1201.4 628.0 1201.2 630.0 1200.9 632.0 1200.7 634.0 1200.4 636.0 1200.2 637.9 1199.9 639.9 1199.6 641.9 1199.3 643.9 1199.0 645.8 1198.7 647.8 1198.4 649.8 1198.0 651.8 1197.7 653.7 1197.3 655.7 1196.9 657.6 1196.5 659.6 1196.1 661.6 1195.7 663.5 1195.3 665.5 1194.9 667.4 1194.4 669.4 1194.0 671.3 1193.5 673.2 1193.1 675.2 1192.6 677.1 1192.1 679.1 1191.6 681.0 1191.0 682.9 1190.5 684.8 1190.0 686.8 1189.4 688.7 1188.9 690.6 1188.3 692.5 1187.7 694.4 1187.1 696.3 1186.5 698.2 1185.9 700.1 1185.3 702.0 1184.6 703.9 1184.0 705.8 1183.3 707.7 1182.6 709.5 1182.0 711.4 1181.3 713.3 1180.6 715.2 1179.9 717.0 1179.2 718.9 1178.4 720.7 1177.7 722.6 1177.0 724.4 1176.2 726.3 1175.4 728.1 1174.7 729.9 1173.9 731.8 1173.1 733.6 1172.3 735.4 1171.5 737.2 1170.6 739.0 1169.8 740.8 1169.0 742.6 1168.1 744.4 1167.3 746.2 1166.4 748.0 1165.5 749.8 1164.6 751.6 1163.7 753.4 1162.9 755.2 1162.0 756.9 1161.1 758.7 1160.2 760.5 1159.3 762.3 1158.4 764.1 1157.5 765.8 1156.6 767.6 1155.7 769.4 1154.8 771.2 1153.9 773.0 1153.0 774.8 1152.1 776.7 1151.2 778.5 1150.4 780.3 1149.5 782.1 1148.7 784.0 1147.8 785.8 1146.9 787.6 1146.0 789.4 1145.2 791.2 1144.3 793.0 1143.4 794.8 1142.4 796.6 1141.5 798.3 1140.5 800.0 1139.5 801.7 1138.5 803.4 1137.4 805.1 1136.3 806.7 1135.2 808.3 1134.1 809.9 1132.9 811.4 1131.6 812.9 1130.3 814.4 1129.0 815.8 1127.7 817.2 1126.3 818.6 1124.8 819.9 1123.4 821.2 1121.9 822.5 1120.3 823.7 1118.8 825.0 1117.2 826.2 1115.6 827.3 1114.0 828.5 1112.4 829.6 1110.7 830.7 1109.0 831.8 1107.3 832.9 1105.6 834.0 1103.9 835.0 1102.2 836.0 1100.5 837.0 1098.8 838.0 1097.0 839.0 1095.3 839.9 1093.5 840.9 1091.8 841.8 1090.0 842.7 1088.2 843.6 1086.4 844.6 1084.7 845.4 1082.9 846.3 1081.1 847.2 1079.3 848.1 1077.5 849.0 1075.7 849.8 1073.9 850.7 1072.1 851.6 1070.3 852.4 1068.5 853.3 1066.7 854.1 1064.9 855.0 1063.1 855.9 1061.3 856.7 1059.5 857.6 1057.7 858.4 1055.9 859.3 1054.1 860.2 1052.3 861.0 1050.5 861.9 1048.7 862.8 1047.0 863.7 1045.2 864.6 1043.4 865.4 1041.6 866.3 1039.8 867.2 1038.0 868.2 1036.3 869.1 1034.5 870.0 1032.7 870.9 1031.0 871.9 1029.2 872.8 1027.4 873.8 1025.7 874.7 1023.9 875.7 1022.2 876.7 1020.5 877.7 1018.7 878.7 1017.0 879.8 1015.3 880.8 1013.6 881.9 1011.9 882.9 1010.2 884.0 1008.5 885.1 1006.9 886.3 1005.2 887.4 1003.6 888.6 1002.0 889.8 1000.4 891.0 998.8 892.2 997.2 893.5 995.7 894.7 994.2 896.0 992.6 897.3 991.1 898.7 989.7 900.0 988.2 901.4 986.7 902.7 985.3 904.1 983.8 905.5 982.4 906.8 981.0 908.2 979.5 909.6 978.1 910.9 976.7 912.3 975.3 913.7 973.8 915.0 972.4 916.3 970.9 917.7 969.5 919.0 968.0 920.3 966.6 921.7 965.1 923.0 963.7 924.3 962.2 925.7 960.7 927.0 959.3 928.4 957.8 929.8 956.4 931.2 954.9 932.6 953.5 934.0 952.1 935.5 950.6 937.0 949.2 938.5 947.8 940.0 946.4 941.5 945.0 943.1 943.7 944.7 942.4 946.4 941.2 948.0 940.0 949.7 938.9 951.4 937.8 953.2 936.8 955.0 935.9 956.8 935.0 958.7 934.3 960.5 933.6 962.4 933.0 964.4 932.6 966.3 932.2 968.2 932.0 970.1 931.9 972.1 931.9 974.0 932.1 975.8 932.4 977.7 932.8 979.5 933.4 981.3 934.0 983.1 934.8 984.9 935.7 986.6 936.7 988.2 937.8 989.9 938.9 991.5 940.2 993.0 941.5 994.5 942.8 995.9 944.3 997.3 945.7 998.6 947.3 999.9 948.8 1001.1 950.4 1002.3 952.1 1003.4 953.8 1004.5 955.5 1005.6 957.2 1006.6 958.9 1007.6 960.7 1008.6 962.5 1009.5 964.3 1010.4 966.1 1011.4 967.9 1012.2 969.7 1013.1 971.6 1014.0 973.4 1014.9 975.2 1015.8 977.0 1016.6 978.8 1017.5 980.6 1018.3 982.4 1019.2 984.2 1020.0 986.0 1020.9 987.8 1021.7 989.6 1022.5 991.4 1023.3 993.2 1024.1 995.0 1025.0 996.8 1025.8 998.6 1026.6 1000.4 1027.4 1002.2 1028.2 1004.0 1028.9 1005.9 1029.7 1007.7 1030.5 1009.5 1031.3 1011.4 1032.0 1013.2 1032.8 1015.0 1033.6 1016.9 1034.3 1018.7 1035.1 1020.6 1035.9 1022.4 1036.6 1024.3 1037.4 1026.2 1038.1 1028.0 1038.9 1029.9 1039.6 1031.7 1040.3 1033.6 1041.1 1035.5 1041.8 1037.3 1042.6 1039.2 1043.3 1041.1 1044.0 1042.9 1044.8 1044.8 1045.5 1046.7 1046.3 1048.5 1047.0 1050.4 1047.7 1052.2 1048.5 1054.1 1049.2 1055.9 1050.0 1057.8 1050.7 1059.6 1051.5 1061.5 1052.2 1063.3 1053.0 1065.2 1053.7 1067.0 1054.5 1068.9 1055.3 1070.7 1056.0 1072.6 1056.8 1074.4 1057.6 1076.2 1058.4 1078.1 1059.2 1079.9 1060.0 1081.7 1060.8 1083.6 1061.7 1085.4 1062.5 1087.2 1063.3 1089.0 1064.2 1090.8 1065.1 1092.7 1065.9 1094.5 1066.8 1096.2 1067.8 1098.0 1068.7 1099.8 1069.7 1101.5 1070.7 1103.3 1071.7 1105.0 1072.7 1106.7 1073.8 1108.3 1074.9 1110.0 1076.0 1111.6 1077.2 1113.2 1078.4 1114.7 1079.7 1116.3 1081.0 1117.7 1082.3 1119.2 1083.7 1120.6 1085.1 1122.0 1086.6 1123.4 1088.0 1124.7 1089.6 1126.0 1091.1 1127.3 1092.6 1128.6 1094.2 1129.8 1095.8 1131.0 1097.5 1132.2 1099.1 1133.4 1100.7 1134.6 1102.4 1135.8 1104.1 1136.9 1105.7 1138.0 1107.4 1139.2 1109.1 1140.3 1110.8 1141.4 1112.4 1142.5 1114.1 1143.6 1115.8 1144.6 1117.5 1145.7 1119.2 1146.8 1120.9 1147.8 1122.6 1148.9 1124.3 1149.9 1126.0 1150.9 1127.7 1152.0 1129.5 1153.0 1131.2 1154.0 1132.9 1155.0 1134.6 1155.9 1136.4 1156.9 1138.1 1157.9 1139.9 1158.8 1141.6 1159.8 1143.4 1160.7 1145.1 1161.6 1146.9 1162.5 1148.7 1163.4 1150.4 1164.3 1152.2 1165.2 1154.0 1166.1 1155.8 1166.9 1157.6 1167.8 1159.4 1168.6 1161.2 1169.5 1163.1 1170.3 1164.9 1171.1 1166.7 1171.9 1168.5 1172.7 1170.4 1173.5 1172.2 1174.3 1174.1 1175.0 1176.0 1175.8 1177.8 1176.5 1179.7 1177.2 1181.6 1177.9 1183.5 1178.6 1185.4 1179.3 1187.3 1180.0 1189.2 1180.6 1191.1 1181.2 1193.0 1181.8 1194.9 1182.4 1196.8 1183.0 1198.7 1183.5 1200.7 1184.1 1202.6 1184.6 1204.5 1185.1 1206.5 1185.6 1208.4 1186.0 1210.4 1186.4 1212.3 1186.8 1214.3 1187.2 1216.2 1187.6 1218.2 1187.9 1220.2 1188.3 1222.1 1188.6 1224.1 1188.9 1226.1 1189.2 1228.0 1189.5 1230.0 1189.8 1232.0 1190.1 1233.9 1190.3 1235.9 1190.6 1237.9 1190.9 1239.9 1191.2 1241.8 1191.5 1243.8 1191.8 1245.8 1192.2 1247.7 1192.5 1249.7 1192.9 1251.7 1193.2 1253.7 1193.6 1255.6 1194.0 1257.6 1194.4 1259.6 1194.8 1261.5 1195.2 1263.5 1195.6 1265.5 1196.0 1267.5 1196.4 1269.4 1196.8 1271.4 1197.1 1273.4 1197.5 1275.4 1197.9 1277.3 1198.2 1279.3 1198.5 1281.3 1198.9 1283.3 1199.2 1285.2 1199.5 1287.2 1199.8 1289.2 1200.1 1291.2 1200.3 1293.2 1200.6 1295.1 1200.9 1297.1 1201.1 1299.1 1201.4 1301.1 1201.6 1303.1 1201.8 1305.1 1202.0 1307.1 1202.2 1309.0 1202.4 1311.0 1202.6 1313.0 1202.8 1315.0 1203.0 1317.0 1203.2 1319.0 1203.3 1321.0 1203.5 1323.0 1203.7 1324.9 1203.8 1326.9 1203.9 1328.9 1204.1 1330.9 1204.2 1332.9 1204.3 1334.9 1204.5 1336.9 1204.6 1338.9 1204.7 1340.9 1204.8 1342.9 1204.9 1344.9 1205.0 1346.9 1205.1 1348.9 1205.1 1350.9 1205.2 1352.9 1205.3 1354.8 1205.4 1356.8 1205.4 1358.8 1205.5 1360.8 1205.6 1362.8 1205.6 1364.8 1205.7 1366.8 1205.7 1368.8 1205.8 1370.8 1205.8 1372.8 1205.9 1374.8 1205.9 1376.8 1206.0 1378.8 1206.0 1380.8 1206.0 1382.8 1206.1 1384.8 1206.1 1386.8 1206.2 1388.8 1206.2 1390.8 1206.2 1392.8 1206.2 1394.8 1206.3 1396.8 1206.3 1398.8 1206.3 1400.8 1206.4 1402.8 1206.4 1404.8 1206.4 1406.8 1206.5 1408.8 1206.5 1410.8 1206.5 1412.8 1206.5 1414.8 1206.6 1416.8 1206.6 1418.8 1206.6 1420.8 1206.6 1422.8 1206.6 1424.8 1206.7 1426.8 1206.7 1428.8 1206.7 1430.8 1206.7 1432.8 1206.8 1434.8 1206.8 1436.8 1206.8 1438.8 1206.8 1440.8 1206.8 1442.8 1206.8 1444.8 1206.9 1446.8 1206.9 1448.8 1206.9 1450.7 1206.9 1452.7 1206.9 1454.7 1206.9 1456.7 1206.9 1458.7 1207.0 1460.7 1207.0 1462.7 1207.0 1464.7 1207.0 1466.7 1207.0 1468.7 1207.0 1470.7 1207.0 1472.7 1207.0 1474.7 1207.0 1476.7 1207.1 1478.7 1207.1 1480.7 1207.1 1482.7 1207.1 1484.7 1207.1 1486.7 1207.1 1488.7 1207.1 1490.7 1207.1 1492.7 1207.1 1494.7 1207.1 1496.7 1207.1 1498.7 1207.1 1500.7 1207.1 1502.7 1207.1 1504.7 1207.1 1506.7 1207.1 1508.7 1207.1 1510.7 1207.1 1512.7 1207.1 1514.7 1207.1 1516.7 1207.1 1518.7 1207.1 1520.7 1207.1 1522.7 1207.1 1524.7 1207.1 1526.7 1207.1 1528.7 1207.1 1530.7 1207.1 1532.7 1207.1 1534.7 1207.1 1536.7 1207.1 1538.7 1207.1 1540.7 1207.1 1542.7 1207.1 1544.7 1207.1 1546.7 1207.1 1548.7 1207.1 1550.7 1207.1 1552.7 1207.1 1554.7 1207.1 1556.7 1207.1 1558.7 1207.1 1560.7 1207.1 1562.7 1207.1 1564.7 1207.0 1566.7 1207.0 1568.7 1207.0 1570.7 1207.0 1572.7 1207.0 1574.7 1207.0 1576.6 1207.0 1578.6 1207.0 1580.6 1207.0 1582.6 1207.0 1584.6 1207.0 1586.6 1207.0 1588.6 1206.9 1590.6 1206.9 1592.6 1206.9 1594.6 1206.9 1596.6 1206.9 1598.6 1206.9 1600.6 1206.9 1602.6 1206.9 1604.6 1206.8 1606.6 1206.8 1608.6 1206.8 1610.6 1206.8 1612.6 1206.8 1614.6 1206.8 1616.6 1206.8 1618.6 1206.8 1620.6 1206.7 1622.6 1206.7 1624.6 1206.7 1626.6 1206.7 1628.6 1206.7 1630.6 1206.7 1632.6 1206.7 1634.6 1206.6 1636.6 1206.6 1638.6 1206.6 1640.6 1206.6 1642.6 1206.6 1644.6 1206.6 1646.6 1206.6 1648.6 1206.5 1650.6 1206.5 1652.6 1206.5 1654.6 1206.5 1656.6 1206.5 1658.6 1206.5 1660.6 1206.4 1662.6 1206.4 1664.6 1206.4 1666.6 1206.4 1668.6 1206.4 1670.6 1206.4 1672.6 1206.3 1674.6 1206.3 1676.6 1206.3 1678.6 1206.3 1680.6 1206.3 1682.6 1206.3 1684.6 1206.2 1686.6 1206.2 1688.6 1206.2 1690.6 1206.2 1692.6 1206.2 1694.6 1206.2 1696.6 1206.1 1698.6 1206.1 1700.6 1206.1 1702.6 1206.1 1704.6 1206.1 1706.6 1206.1 1708.5 1206.0 1710.5 1206.0 1712.5 1206.0 1714.5 1206.0 1716.5 1206.0 1718.5 1206.0 1720.5 1205.9 1722.5 1205.9 1724.5 1205.9 1726.5 1205.9 1728.5 1205.9 1730.5 1205.9 1732.5 1205.8 1734.5 1205.8 1736.5 1205.8 1738.5 1205.8 1740.5 1205.8 1742.5 1205.8 1744.5 1205.7 1746.5 1205.7 1748.5 1205.7 1750.5 1205.7 1752.5 1205.7 1754.5 1205.7 1756.5 1205.7 1758.5 1205.6 1760.5 1205.6 1762.5 1205.6 1764.5 1205.6 1766.5 1205.6 1768.5 1205.6 1770.5 1205.5 1772.5 1205.5 1774.5 1205.5 1776.5 1205.5 1778.5 1205.5 1780.5 1205.5 1782.5 1205.5 1784.5 1205.4 1786.5 1205.4 1788.5 1205.4 1790.5 1205.4 1792.5 1205.4 1794.5 1205.4 1796.5 1205.4 1798.5 1205.4 1800.5 1205.3 1802.5 1205.3 1804.5 1205.3 1806.5 1205.3 1808.5 1205.3 1810.5 1205.3 1812.5 1205.3 1814.5 1205.3 1816.5 1205.3 1818.5 1205.2 1820.5 1205.2 1822.5 1205.2 1824.5 1205.2 1826.5 1205.2 1828.5 1205.2 1830.5 1205.2 1832.5 1205.2 1834.5 1205.2 1836.5 1205.2 1838.5 1205.1 1840.4 1205.1 1842.4 1205.1 1844.4 1205.1 1846.4 1205.1 1848.4 1205.1 1850.4 1205.1 1852.4 1205.1 1854.4 1205.1 1856.4 1205.1 1858.4 1205.1 1860.4 1205.1 1862.4 1205.1 1864.4 1205.1 1866.4 1205.0 1868.4 1205.0 1870.4 1205.0 1872.4 1205.0 1874.4 1205.0 1876.4 1205.0 1878.4 1205.0 1880.4 1205.0 1882.4 1205.0 1884.4 1205.0 1886.4 1205.0 1888.4 1205.0 1890.4 1205.0 1892.4 1205.0 1894.4 1205.0 1896.4 1205.0 1898.4 1205.0 1900.4 1205.0 1902.4 1205.0 1904.4 1205.0 1906.4 1204.9 1908.4 1204.9 1910.4 1204.9 1912.4 1204.9 1914.4 1204.9 1916.4 1204.9 1918.4 1204.9 1920.4 1204.9 1922.4 1204.9 1924.4 1204.9 1926.4 1204.9 1928.4 1204.9 1930.4 1204.9 1932.4 1204.9 1934.4 1204.9 1936.4 1204.9 1938.4 1204.9 1940.4 1204.9 1942.4 1204.9 1944.4 1204.9 1946.4 1204.9 1948.4 1204.9 1950.4 1204.9 1952.4 1204.9 1954.4 1204.9 1956.4 1204.9 1958.4 1204.9 1960.4 1204.9 1962.4 1204.9 1964.4 1204.9 1966.4 1204.9 1968.4 1204.9 1970.3 1204.9 1972.3 1204.9 1974.3 1204.9 1976.3 1204.9 1978.3 1204.9 1980.3 1204.9 1982.3 1204.9 1984.3 1204.9 1986.3 1204.9 1988.3 1204.9 1990.3 1204.9 1992.3 1204.9 1994.3 1204.9 1996.3 1204.9 1998.3 1204.9 2000.3 1204.9 2002.3 1204.9 2004.3 1204.9 2006.3 1204.9 2008.3 1204.9 2010.3 1204.9 2012.3 1204.9 2014.3 1204.9 2016.3 1204.9 2018.3 1204.9 2020.3 1204.9 2022.3 1204.9 2024.3 1204.9 2026.3 1204.9 2028.3 1204.9 2030.3 1205.0 2032.3 1205.0 2034.3 1205.0 2036.3 1205.0 2038.3 1205.0 2040.3 1205.0 2042.3 1205.0 2044.3 1205.0 2046.3 1205.0 2048.3 1205.0 2050.3 1205.0 2052.3 1205.0 2054.3 1205.0 2056.3 1205.0 2058.3 1205.0 2060.3 1205.0 2062.3 1205.0 2064.3 1205.0 2066.3 1205.0 2068.3 1205.0 2070.3 1205.0 2072.3 1205.0 2074.3 1205.0 2076.3 1205.0 2078.3 1205.0 2080.3 1205.0 2082.3 1205.0 2084.3 1205.0 2086.3 1205.0 2088.3 1205.1 2090.3 1205.1 2092.3 1205.1 2094.3 1205.1 2096.2 1205.1 2098.2 1205.1 2100.2 1205.1 2102.2 1205.1 2104.2 1205.1 2106.2 1205.1 2108.2 1205.1 2110.2 1205.1 2112.2 1205.1 2114.2 1205.1 2116.2 1205.1 2118.2 1205.1 2120.2 1205.1 2122.2 1205.1 2124.2 1205.1 2126.2 1205.1 2128.2 1205.1 2130.2 1205.1 2132.2 1205.1 2134.2 1205.2 2136.2 1205.2 2138.2 1205.2 2140.2 1205.2 2142.2 1205.2 2144.2 1205.2 2146.2 1205.2 2148.2 1205.2 2150.2 1205.2 2152.2 1205.2 2154.2 1205.2 2156.2 1205.2 2158.2 1205.2 2160.2 1205.2 2162.2 1205.2 2164.2 1205.2 2166.2 1205.2 2168.2 1205.2 2170.2 1205.2 2172.2 1205.2 2174.2 1205.2 2176.2 1205.2 2178.2 1205.2 2180.2 1205.3 2182.2 1205.3 2184.2 1205.3 2186.2 1205.3 2188.2 1205.3 2190.2 1205.3 2192.2 1205.3 2194.2 1205.3 2196.2 1205.3 2198.2 1205.3 2200.2 1205.3 2202.2 1205.3 2204.2 1205.3 2206.2 1205.3 2208.2 1205.3 2210.2 1205.3 2212.2 1205.3 2214.2 1205.3 2216.2 1205.3 2218.2 1205.3 2220.2 1205.3 2222.2 1205.3 2224.1 1205.3 2226.1 1205.3 2228.1 1205.3 2230.1 1205.3 2232.1 1205.4 2234.1 1205.4 2236.1 1205.4 2238.1 1205.4 2240.1 1205.4 2242.1 1205.4 2244.1 1205.4 2246.1 1205.4 2248.1 1205.4 2250.1 1205.4 2252.1 1205.4 2254.1 1205.4 2256.1 1205.4 2258.1 1205.4 2260.1 1205.4 2262.1 1205.4 2264.1 1205.4 2266.1 1205.4 2268.1 1205.4 2270.1 1205.4 2272.1 1205.4 2274.1 1205.4 2276.1 1205.4 2278.1 1205.4 2280.1 1205.4 2282.1 1205.4 2284.1 1205.4 2286.1 1205.4 2288.1 1205.4 2290.1 1205.4 2292.1 1205.4 2294.1 1205.4 2296.1 1205.4 2298.1 1205.4 2300.1 1205.4 2302.1 1205.4 2304.1 1205.4 2306.1 1205.4 2308.1 1205.4 2310.1 1205.4 2312.1 1205.4 2314.1 1205.4 2316.1 1205.4 2318.1 1205.4 2320.1 1205.4 2322.1 1205.4 2324.1 1205.4 2326.1 1205.4 2328.1 1205.4 2330.1 1205.4 2332.1 1205.4 2334.1 1205.4 2336.1 1205.4 2338.1 1205.4 2340.1 1205.4 2342.1 1205.4 2344.1 1205.4 2346.1 1205.4 2348.1 1205.4 2350.1 1205.4 2352.1 1205.4 2354.0 1205.4 2356.0 1205.4 2358.0 1205.4 2360.0 1205.4 2362.0 1205.4 2364.0 1205.4 2366.0 1205.4 2368.0 1205.4 2370.0 1205.4 2372.0 1205.4 2374.0 1205.4 2376.0 1205.4 2378.0 1205.4 2380.0 1205.4 2382.0 1205.4 2384.0 1205.4 2386.0 1205.3 2388.0 1205.3 2390.0 1205.3 2392.0 1205.3 2394.0 1205.3 2396.0 1205.3 2398.0 1205.3 2400.0 1205.3 2402.0 1205.3 2404.0 1205.3 2406.0 1205.3 2408.0 1205.3 2410.0 1205.3 2412.0 1205.3 2414.0 1205.3 2416.0 1205.3 2418.0 1205.3 2420.0 1205.3" stroke="#00B04F"/>
</g>
<g font-family="'Liberation Sans', Arial, sans-serif" font-size="55.8" fill="#000">
<g text-anchor="end"><text transform="translate(497.5 1225.2) scale(0.9760 1)" font-size="56.3">0</text><text transform="translate(497.5 1065.9) scale(0.9760 1)" font-size="56.3">100</text><text transform="translate(497.5 906.6) scale(0.9760 1)" font-size="56.3">200</text><text transform="translate(497.5 747.3) scale(0.9760 1)" font-size="56.3">300</text><text transform="translate(497.5 588.0) scale(0.9760 1)" font-size="56.3">400</text><text transform="translate(497.5 428.7) scale(0.9760 1)" font-size="56.3">500</text><text transform="translate(497.5 269.4) scale(0.9760 1)" font-size="56.3">600</text><text transform="translate(497.5 110.1) scale(0.9760 1)" font-size="56.3">700</text></g>
<g text-anchor="middle"><text transform="translate(553.7 1302.8) scale(0.9555 1)" font-size="57">0</text><text transform="translate(864.5 1302.8) scale(0.9555 1)" font-size="57">0.5</text><text transform="translate(1175.2 1302.8) scale(0.9555 1)" font-size="57">1</text><text transform="translate(1486.0 1302.8) scale(0.9555 1)" font-size="57">1.5</text><text transform="translate(1796.7 1302.8) scale(0.9555 1)" font-size="57">2</text><text transform="translate(2107.4 1302.8) scale(0.9555 1)" font-size="57">2.5</text><text transform="translate(2418.2 1302.8) scale(0.9555 1)" font-size="57">3</text></g>
</g>
<g font-family="'Liberation Serif', 'Times New Roman', serif" fill="#000">
<text transform="translate(832.3 74.0) scale(0.9719 1)" font-size="78" xml:space="preserve" style="white-space:pre">Pitch  RAOs With Viscous Damping</text>
<text transform="translate(1154.2 1410.9) scale(0.9769 1)" font-size="77.5">Wave Frequency (Hz)</text>
<text transform="translate(276.6 1034.8) rotate(-90) scale(0.9709 1)" font-size="77.5">Pitch RAO (Deg/m)</text>
<text y="1466.8" font-size="79" font-weight="bold"><tspan x="16.2">(</tspan><tspan x="44.2" font-size="75">b</tspan><tspan x="85.6">)</tspan></text>
<g font-size="62" stroke-linecap="round" stroke-width="8.5"><line x1="1691.5" y1="308.3" x2="1834.5" y2="308.3" stroke="#1873C9"/><text transform="translate(1849.2 327.0) scale(0.975 1)">Baseline</text><line x1="1691.5" y1="414.8" x2="1834.5" y2="414.8" stroke="#E00000"/><text transform="translate(1849.2 433.5) scale(0.975 1)">Solid Plate</text><line x1="1691.5" y1="519.5" x2="1834.5" y2="519.5" stroke="#000000"/><text transform="translate(1849.2 538.2) scale(0.975 1)">Perforated Plate</text><line x1="1691.5" y1="625.6" x2="1834.5" y2="625.6" stroke="#00B04F"/><text transform="translate(1849.2 644.3) scale(0.975 1)">Corrugated Plate</text></g>
</g>
</svg>
</body></html>
